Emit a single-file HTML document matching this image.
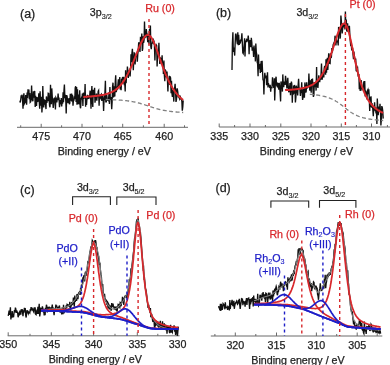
<!DOCTYPE html>
<html><head><meta charset="utf-8">
<style>
html,body{margin:0;padding:0;background:#fff;width:390px;height:365px;overflow:hidden}
svg{display:block;filter:blur(0.35px)}
.t{font-family:"Liberation Sans",sans-serif;font-size:10.7px;fill:#222;stroke:#222;stroke-width:0.25px}
.l{font-family:"Liberation Sans",sans-serif;font-size:12.5px;fill:#222;stroke:#222;stroke-width:0.25px}
.s{font-size:7.2px;stroke-width:0.15px}
</style></head><body>
<svg width="390" height="365" viewBox="0 0 390 365">
<line x1="17" y1="127.3" x2="188" y2="127.3" stroke="#6a6a6a" stroke-width="1"/>
<line x1="41.2" y1="123.8" x2="41.2" y2="127.3" stroke="#6a6a6a" stroke-width="1"/>
<line x1="82" y1="123.8" x2="82" y2="127.3" stroke="#6a6a6a" stroke-width="1"/>
<line x1="122.7" y1="123.8" x2="122.7" y2="127.3" stroke="#6a6a6a" stroke-width="1"/>
<line x1="164.2" y1="123.8" x2="164.2" y2="127.3" stroke="#6a6a6a" stroke-width="1"/>
<line x1="20.7" y1="125.3" x2="20.7" y2="127.3" stroke="#6a6a6a" stroke-width="1"/>
<line x1="61.6" y1="125.3" x2="61.6" y2="127.3" stroke="#6a6a6a" stroke-width="1"/>
<line x1="102.4" y1="125.3" x2="102.4" y2="127.3" stroke="#6a6a6a" stroke-width="1"/>
<line x1="143.4" y1="125.3" x2="143.4" y2="127.3" stroke="#6a6a6a" stroke-width="1"/>
<line x1="184.5" y1="125.3" x2="184.5" y2="127.3" stroke="#6a6a6a" stroke-width="1"/>
<text x="41.2" y="140" text-anchor="middle" class="t">475</text>
<text x="82" y="140" text-anchor="middle" class="t">470</text>
<text x="122.7" y="140" text-anchor="middle" class="t">465</text>
<text x="164.2" y="140" text-anchor="middle" class="t">460</text>
<polyline points="19.9,100.7 20.3,102.5 20.8,99.0 21.2,95.3 21.7,98.0 22.1,94.7 22.6,101.0 23.0,108.7 23.5,97.7 23.9,93.2 24.4,103.6 24.8,102.8 25.3,101.9 25.7,95.1 26.2,100.5 26.6,104.8 27.1,92.6 27.5,97.9 28.0,89.2 28.4,92.9 28.9,89.6 29.3,99.2 29.8,93.0 30.2,102.2 30.7,101.6 31.1,99.5 31.6,85.5 32.0,97.4 32.5,100.3 32.9,101.3 33.4,91.4 33.8,97.7 34.3,94.7 34.7,90.9 35.2,106.9 35.6,95.7 36.1,100.4 36.5,105.9 37.0,97.1 37.4,99.9 37.9,101.2 38.3,100.9 38.8,93.2 39.2,101.0 39.7,108.7 40.1,91.2 40.6,105.7 41.0,101.2 41.5,96.7 41.9,112.5 42.4,105.1 42.8,86.1 43.3,100.9 43.7,107.4 44.2,99.3 44.6,104.6 45.1,100.1 45.5,104.5 46.0,109.1 46.4,96.4 46.9,102.9 47.3,97.6 47.8,101.2 48.2,93.3 48.7,93.5 49.1,99.2 49.6,105.8 50.0,107.3 50.5,84.8 50.9,95.6 51.4,104.2 51.8,88.4 52.3,97.6 52.7,99.8 53.2,107.9 53.6,104.5 54.1,98.4 54.5,98.1 55.0,98.8 55.4,109.4 55.9,97.7 56.3,98.5 56.8,102.4 57.2,99.5 57.7,99.1 58.1,93.6 58.6,100.2 59.0,97.6 59.5,107.2 59.9,104.1 60.4,100.1 60.8,104.2 61.3,98.1 61.7,106.5 62.2,100.1 62.6,103.6 63.1,92.4 63.5,102.2 64.0,90.0 64.4,84.5 64.9,98.3 65.3,94.7 65.8,101.1 66.2,113.5 66.7,95.1 67.1,96.3 67.6,101.2 68.0,103.0 68.5,98.9 68.9,98.7 69.4,104.2 69.8,103.1 70.3,93.7 70.7,99.4 71.2,100.1 71.6,93.6 72.1,101.4 72.5,94.7 73.0,105.7 73.4,101.0 73.9,100.3 74.3,96.2 74.8,99.1 75.2,87.8 75.7,86.2 76.1,101.9 76.6,86.9 77.0,104.8 77.5,89.2 77.9,104.2 78.4,94.5 78.8,104.3 79.3,100.4 79.7,90.3 80.2,107.0 80.6,108.2 81.1,99.1 81.5,97.8 82.0,98.5 82.4,93.6 82.9,106.0 83.3,92.8 83.8,99.0 84.2,94.5 84.7,95.5 85.1,83.9 85.6,106.8 86.0,98.3 86.5,104.9 86.9,99.2 87.4,94.9 87.8,97.1 88.3,95.7 88.7,99.0 89.2,96.7 89.6,97.1 90.1,90.6 90.5,94.0 91.0,108.7 91.4,94.7 91.9,86.0 92.3,100.7 92.8,107.0 93.2,89.8 93.7,97.2 94.1,94.7 94.6,87.8 95.0,102.7 95.5,98.1 95.9,98.6 96.4,93.6 96.8,100.8 97.3,94.8 97.7,97.1 98.2,91.2 98.6,90.5 99.1,105.7 99.5,94.6 100.0,99.3 100.4,97.3 100.9,94.8 101.3,94.3 101.8,101.0 102.2,95.3 102.7,96.1 103.1,97.0 103.6,110.9 104.0,100.7 104.5,98.8 104.9,93.0 105.4,80.7 105.8,101.8 106.3,101.8 106.7,95.0 107.2,98.9 107.6,100.2 108.1,100.3 108.5,100.7 109.0,92.2 109.4,103.9 109.9,87.1 110.3,99.5 110.8,97.1 111.2,99.1 111.7,109.2 112.1,102.3 112.6,86.2 113.0,82.7 113.5,97.5 113.9,86.2 114.4,91.9 114.8,96.6 115.3,81.4 115.7,75.3 116.2,92.1 116.6,90.4 117.1,88.3 117.5,89.6 118.0,83.7 118.4,79.4 118.9,87.0 119.3,81.6 119.8,77.1 120.2,89.5 120.7,85.5 121.1,90.2 121.6,78.8 122.0,80.2 122.5,77.5 122.9,77.6 123.4,83.4 123.8,76.8 124.3,85.1 124.7,82.1 125.2,91.5 125.6,70.2 126.1,83.1 126.5,76.4 127.0,76.0 127.4,66.5 127.9,71.5 128.3,77.9 128.8,72.0 129.2,72.5 129.7,68.8 130.1,76.5 130.6,68.4 131.0,54.3 131.5,62.3 131.9,53.6 132.4,48.7 132.8,60.1 133.3,70.1 133.7,61.3 134.2,52.9 134.6,53.1 135.1,64.4 135.5,57.4 136.0,55.9 136.4,53.9 136.9,53.3 137.3,61.6 137.8,54.1 138.2,50.9 138.7,42.3 139.1,50.5 139.6,42.3 140.0,51.9 140.5,36.7 140.9,42.5 141.4,42.3 141.8,33.5 142.3,50.9 142.7,48.6 143.2,36.2 143.6,42.9 144.1,39.9 144.5,21.5 145.0,38.1 145.4,35.7 145.9,36.2 146.3,29.0 146.8,33.6 147.2,34.0 147.7,42.1 148.1,37.0 148.6,35.1 149.0,44.5 149.5,28.9 149.9,33.6 150.4,25.5 150.8,46.4 151.3,49.1 151.7,43.8 152.2,43.0 152.6,40.5 153.1,42.1 153.5,40.2 154.0,41.5 154.4,44.1 154.9,60.5 155.3,49.4 155.8,46.9 156.2,44.9 156.7,45.8 157.1,66.5 157.6,55.2 158.0,53.9 158.5,52.7 158.9,42.7 159.4,56.9 159.8,63.9 160.3,57.6 160.7,58.5 161.2,61.1 161.6,64.4 162.1,55.4 162.5,64.8 163.0,62.3 163.4,73.9 163.9,60.6 164.3,74.4 164.8,81.2 165.2,69.4 165.7,70.7 166.1,76.5 166.6,76.4 167.0,71.5 167.5,81.2 167.9,91.5 168.4,78.8 168.8,80.1 169.3,75.9 169.7,85.0 170.2,76.4 170.6,78.1 171.1,93.2 171.5,80.9 172.0,93.6 172.4,97.0 172.9,90.1 173.3,92.6 173.8,101.6 174.2,89.4 174.7,87.6 175.1,83.7 175.6,92.7 176.0,101.9 176.5,99.3 176.9,88.4 177.4,89.5 177.8,92.1 178.3,97.4 178.7,94.8 179.2,97.8 179.6,98.8 180.1,95.6 180.5,97.3 181.0,99.5 181.4,98.1 181.9,102.0 182.3,110.6 182.8,106.8 183.2,100.4" fill="none" stroke="#111" stroke-width="1.35" />
<polyline points="105.8,99.5 106.3,99.5 106.7,99.6 107.2,99.6 107.6,99.6 108.1,99.6 108.5,99.6 109.0,99.6 109.4,99.6 109.9,99.6 110.3,99.7 110.8,99.7 111.2,99.7 111.7,99.7 112.1,99.7 112.6,99.7 113.0,99.8 113.5,99.8 113.9,99.8 114.4,99.8 114.8,99.8 115.3,99.9 115.7,99.9 116.2,99.9 116.6,99.9 117.1,99.9 117.5,100.0 118.0,100.0 118.4,100.0 118.9,100.1 119.3,100.1 119.8,100.1 120.2,100.1 120.7,100.2 121.1,100.2 121.6,100.2 122.0,100.3 122.5,100.3 122.9,100.4 123.4,100.4 123.8,100.4 124.3,100.5 124.7,100.5 125.2,100.6 125.6,100.6 126.1,100.7 126.5,100.7 127.0,100.8 127.4,100.8 127.9,100.9 128.3,101.0 128.8,101.0 129.2,101.1 129.7,101.2 130.1,101.2 130.6,101.3 131.0,101.4 131.5,101.4 131.9,101.5 132.4,101.6 132.8,101.7 133.3,101.8 133.7,101.9 134.2,101.9 134.6,102.0 135.1,102.1 135.5,102.2 136.0,102.3 136.4,102.4 136.9,102.5 137.3,102.7 137.8,102.8 138.2,102.9 138.7,103.0 139.1,103.1 139.6,103.2 140.0,103.4 140.5,103.5 140.9,103.6 141.4,103.8 141.8,103.9 142.3,104.0 142.7,104.2 143.2,104.3 143.6,104.4 144.1,104.6 144.5,104.7 145.0,104.9 145.4,105.0 145.9,105.2 146.3,105.3 146.8,105.5 147.2,105.6 147.7,105.8 148.1,105.9 148.6,106.1 149.0,106.2 149.5,106.4 149.9,106.5 150.4,106.7 150.8,106.8 151.3,107.0 151.7,107.1 152.2,107.3 152.6,107.4 153.1,107.6 153.5,107.7 154.0,107.9 154.4,108.0 154.9,108.1 155.3,108.3 155.8,108.4 156.2,108.5 156.7,108.7 157.1,108.8 157.6,108.9 158.0,109.0 158.5,109.1 158.9,109.3 159.4,109.4 159.8,109.5 160.3,109.6 160.7,109.7 161.2,109.8 161.6,109.9 162.1,110.0 162.5,110.1 163.0,110.2 163.4,110.3 163.9,110.3 164.3,110.4 164.8,110.5 165.2,110.6 165.7,110.7 166.1,110.7 166.6,110.8 167.0,110.9 167.5,111.0 167.9,111.0 168.4,111.1 168.8,111.2 169.3,111.2 169.7,111.3 170.2,111.3 170.6,111.4 171.1,111.5 171.5,111.5 172.0,111.6 172.4,111.6 172.9,111.7 173.3,111.7 173.8,111.8 174.2,111.8 174.7,111.9 175.1,111.9 175.6,111.9 176.0,112.0 176.5,112.0 176.9,112.1 177.4,112.1 177.8,112.1 178.3,112.2 178.7,112.2 179.2,112.2 179.6,112.3 180.1,112.3 180.5,112.3 181.0,112.4 181.4,112.4 181.9,112.4 182.3,112.4 182.8,112.5 183.2,112.5" fill="none" stroke="#808080" stroke-width="1.3" stroke-dasharray="4,2.5"/>
<polyline points="83.3,96.9 83.8,96.9 84.2,96.9 84.7,96.8 85.1,96.8 85.6,96.8 86.0,96.7 86.5,96.7 86.9,96.7 87.4,96.7 87.8,96.6 88.3,96.6 88.7,96.6 89.2,96.5 89.6,96.5 90.1,96.5 90.5,96.4 91.0,96.4 91.4,96.4 91.9,96.3 92.3,96.3 92.8,96.2 93.2,96.2 93.7,96.2 94.1,96.1 94.6,96.1 95.0,96.0 95.5,96.0 95.9,95.9 96.4,95.9 96.8,95.8 97.3,95.8 97.7,95.7 98.2,95.7 98.6,95.6 99.1,95.5 99.5,95.5 100.0,95.4 100.4,95.3 100.9,95.3 101.3,95.2 101.8,95.1 102.2,95.0 102.7,94.9 103.1,94.9 103.6,94.8 104.0,94.7 104.5,94.6 104.9,94.5 105.4,94.4 105.8,94.2 106.3,94.1 106.7,94.0 107.2,93.9 107.6,93.7 108.1,93.6 108.5,93.4 109.0,93.3 109.4,93.1 109.9,92.9 110.3,92.7 110.8,92.5 111.2,92.3 111.7,92.1 112.1,91.9 112.6,91.7 113.0,91.4 113.5,91.2 113.9,90.9 114.4,90.6 114.8,90.3 115.3,90.0 115.7,89.7 116.2,89.4 116.6,89.0 117.1,88.7 117.5,88.3 118.0,87.9 118.4,87.5 118.9,87.0 119.3,86.6 119.8,86.1 120.2,85.6 120.7,85.1 121.1,84.5 121.6,84.0 122.0,83.4 122.5,82.8 122.9,82.2 123.4,81.6 123.8,80.9 124.3,80.2 124.7,79.5 125.2,78.8 125.6,78.0 126.1,77.2 126.5,76.4 127.0,75.6 127.4,74.8 127.9,73.9 128.3,73.0 128.8,72.1 129.2,71.2 129.7,70.2 130.1,69.2 130.6,68.2 131.0,67.2 131.5,66.2 131.9,65.1 132.4,64.1 132.8,63.0 133.3,61.9 133.7,60.8 134.2,59.7 134.6,58.6 135.1,57.4 135.5,56.3 136.0,55.2 136.4,54.0 136.9,52.9 137.3,51.8 137.8,50.6 138.2,49.5 138.7,48.4 139.1,47.3 139.6,46.3 140.0,45.2 140.5,44.2 140.9,43.3 141.4,42.3 141.8,41.4 142.3,40.5 142.7,39.7 143.2,39.0 143.6,38.2 144.1,37.6 144.5,37.0 145.0,36.5 145.4,36.0 145.9,35.7 146.3,35.4 146.8,35.2 147.2,35.0 147.7,35.0 148.1,35.0 148.6,35.1 149.0,35.3 149.5,35.6 149.9,35.9 150.4,36.4 150.8,36.9 151.3,37.6 151.7,38.2 152.2,39.0 152.6,39.8 153.1,40.7 153.5,41.7 154.0,42.7 154.4,43.8 154.9,44.9 155.3,46.0 155.8,47.2 156.2,48.4 156.7,49.6 157.1,50.9 157.6,52.2 158.0,53.4 158.5,54.7 158.9,56.0 159.4,57.3 159.8,58.6 160.3,59.9 160.7,61.2 161.2,62.5 161.6,63.7 162.1,65.0 162.5,66.2 163.0,67.4 163.4,68.6 163.9,69.8 164.3,71.0 164.8,72.1 165.2,73.2 165.7,74.3 166.1,75.4 166.6,76.4 167.0,77.4 167.5,78.4 167.9,79.4 168.4,80.3 168.8,81.3 169.3,82.2 169.7,83.0 170.2,83.9 170.6,84.7 171.1,85.5 171.5,86.3 172.0,87.1 172.4,87.8 172.9,88.5 173.3,89.2 173.8,89.9 174.2,90.6 174.7,91.2 175.1,91.8 175.6,92.4 176.0,93.0 176.5,93.5 176.9,94.1 177.4,94.6 177.8,95.1 178.3,95.6 178.7,96.1 179.2,96.5 179.6,97.0 180.1,97.4 180.5,97.8 181.0,98.2 181.4,98.6 181.9,99.0 182.3,99.3 182.8,99.7 183.2,100.0" fill="none" stroke="#d8282c" stroke-width="2.0" />
<line x1="149" y1="19" x2="149" y2="127" stroke="#d8282c" stroke-width="1.4" stroke-dasharray="3,3"/>
<text x="20.0" y="18.3" text-anchor="start" class="l">(a)</text>
<text x="89.8" y="15.5" class="t">3p<tspan class="s" dy="3.1">3/2</tspan></text>
<text x="145.2" y="11.8" text-anchor="start" class="t" style="fill:#d8282c;stroke:#d8282c">Ru (0)</text>
<text x="104.3" y="154.8" text-anchor="middle" class="t">Binding energy / eV</text>
<line x1="219.2" y1="127.0" x2="390" y2="127.0" stroke="#6a6a6a" stroke-width="1"/>
<line x1="219.2" y1="123.5" x2="219.2" y2="127.0" stroke="#6a6a6a" stroke-width="1"/>
<line x1="250" y1="123.5" x2="250" y2="127.0" stroke="#6a6a6a" stroke-width="1"/>
<line x1="280.8" y1="123.5" x2="280.8" y2="127.0" stroke="#6a6a6a" stroke-width="1"/>
<line x1="311" y1="123.5" x2="311" y2="127.0" stroke="#6a6a6a" stroke-width="1"/>
<line x1="341.3" y1="123.5" x2="341.3" y2="127.0" stroke="#6a6a6a" stroke-width="1"/>
<line x1="371.5" y1="123.5" x2="371.5" y2="127.0" stroke="#6a6a6a" stroke-width="1"/>
<line x1="234.6" y1="125.0" x2="234.6" y2="127.0" stroke="#6a6a6a" stroke-width="1"/>
<line x1="265.4" y1="125.0" x2="265.4" y2="127.0" stroke="#6a6a6a" stroke-width="1"/>
<line x1="326.2" y1="125.0" x2="326.2" y2="127.0" stroke="#6a6a6a" stroke-width="1"/>
<line x1="356.4" y1="125.0" x2="356.4" y2="127.0" stroke="#6a6a6a" stroke-width="1"/>
<line x1="387.4" y1="125.0" x2="387.4" y2="127.0" stroke="#6a6a6a" stroke-width="1"/>
<text x="219.2" y="140.3" text-anchor="middle" class="t">335</text>
<text x="250" y="140.3" text-anchor="middle" class="t">330</text>
<text x="280.8" y="140.3" text-anchor="middle" class="t">325</text>
<text x="311" y="140.3" text-anchor="middle" class="t">320</text>
<text x="341.3" y="140.3" text-anchor="middle" class="t">315</text>
<text x="371.5" y="140.3" text-anchor="middle" class="t">310</text>
<polyline points="232.0,70.0 232.4,43.4 232.9,32.2 233.3,51.8 233.8,47.7 234.2,50.9 234.7,55.6 235.1,44.6 235.6,34.1 236.0,34.1 236.5,37.2 236.9,41.0 237.4,44.1 237.8,32.3 238.3,45.3 238.7,34.8 239.2,44.8 239.6,42.5 240.1,41.2 240.5,42.1 241.0,39.8 241.4,39.2 241.9,33.2 242.3,42.3 242.8,52.7 243.2,53.4 243.7,49.6 244.1,46.0 244.6,38.2 245.0,56.5 245.5,41.5 245.9,41.4 246.4,40.1 246.8,42.2 247.3,39.2 247.7,41.1 248.2,35.5 248.6,39.4 249.1,54.3 249.5,40.9 250.0,40.7 250.4,45.5 250.9,47.1 251.3,37.7 251.8,42.4 252.2,50.7 252.7,48.0 253.1,48.0 253.6,56.9 254.0,45.5 254.5,51.4 254.9,48.8 255.4,61.4 255.8,43.5 256.3,52.1 256.7,54.3 257.2,62.3 257.6,63.5 258.1,76.3 258.5,54.6 259.0,69.3 259.4,65.2 259.9,64.7 260.3,73.0 260.8,66.3 261.2,61.1 261.7,72.0 262.1,60.8 262.6,73.0 263.0,79.9 263.5,80.7 263.9,94.5 264.4,79.6 264.8,72.8 265.3,77.5 265.7,77.0 266.2,75.6 266.6,85.2 267.1,79.4 267.5,72.3 268.0,87.5 268.4,83.2 268.9,86.0 269.3,84.8 269.8,88.0 270.2,84.8 270.7,91.7 271.1,87.3 271.6,87.3 272.0,87.5 272.5,77.2 272.9,84.6 273.4,84.2 273.8,88.0 274.3,78.2 274.7,100.5 275.2,86.6 275.6,79.4 276.1,76.7 276.5,84.8 277.0,85.9 277.4,82.5 277.9,87.1 278.3,83.1 278.8,89.8 279.2,82.8 279.7,86.7 280.1,92.4 280.6,101.4 281.0,81.4 281.5,84.5 281.9,82.5 282.4,91.6 282.8,74.4 283.3,84.6 283.7,87.2 284.2,82.0 284.6,82.1 285.1,84.9 285.5,75.8 286.0,79.5 286.4,83.0 286.9,88.5 287.3,85.7 287.8,77.9 288.2,85.2 288.7,92.3 289.1,91.0 289.6,87.5 290.0,83.0 290.5,95.1 290.9,84.9 291.4,81.6 291.8,83.7 292.3,102.8 292.7,89.5 293.2,94.8 293.6,85.6 294.1,93.6 294.5,85.0 295.0,87.5 295.4,102.4 295.9,97.1 296.3,85.7 296.8,88.1 297.2,90.4 297.7,95.4 298.1,85.9 298.6,78.9 299.0,87.1 299.5,88.7 299.9,89.2 300.4,95.9 300.8,90.3 301.3,93.0 301.7,82.2 302.2,93.1 302.6,99.9 303.1,96.7 303.5,89.4 304.0,88.7 304.4,97.7 304.9,82.4 305.3,86.3 305.8,92.5 306.2,91.4 306.7,82.2 307.1,88.7 307.6,85.3 308.0,87.3 308.5,85.7 308.9,73.5 309.4,86.0 309.8,90.8 310.3,80.3 310.7,84.2 311.2,92.7 311.6,79.1 312.1,85.8 312.5,78.6 313.0,90.6 313.4,96.9 313.9,95.0 314.3,82.1 314.8,87.2 315.2,84.0 315.7,82.9 316.1,90.6 316.6,67.0 317.0,87.0 317.5,80.4 317.9,88.0 318.4,80.7 318.8,75.4 319.3,80.2 319.7,82.2 320.2,77.6 320.6,79.6 321.1,73.3 321.5,63.6 322.0,79.8 322.4,78.0 322.9,74.1 323.3,72.9 323.8,77.5 324.2,68.3 324.7,66.0 325.1,68.0 325.6,74.7 326.0,59.3 326.5,72.8 326.9,61.5 327.4,57.8 327.8,69.9 328.3,61.2 328.7,53.3 329.2,57.4 329.6,63.4 330.1,63.6 330.5,53.2 331.0,56.6 331.4,57.0 331.9,48.1 332.3,52.3 332.8,48.8 333.2,44.6 333.7,43.4 334.1,45.2 334.6,43.5 335.0,35.7 335.5,38.2 335.9,45.4 336.4,39.0 336.8,41.5 337.3,41.9 337.7,40.5 338.2,45.4 338.6,26.9 339.1,34.9 339.5,27.5 340.0,38.6 340.4,36.8 340.9,15.5 341.3,20.3 341.8,28.8 342.2,33.4 342.7,28.2 343.1,23.4 343.6,26.1 344.0,27.2 344.5,22.7 344.9,29.5 345.4,11.4 345.8,28.1 346.3,19.5 346.7,31.5 347.2,25.9 347.6,23.4 348.1,31.9 348.5,26.2 349.0,27.8 349.4,25.9 349.9,36.4 350.3,41.2 350.8,46.2 351.2,41.7 351.7,50.5 352.1,47.0 352.6,48.4 353.0,54.3 353.5,59.1 353.9,51.5 354.4,56.1 354.8,58.6 355.3,62.1 355.7,58.6 356.2,71.3 356.6,65.3 357.1,72.0 357.5,66.6 358.0,75.0 358.4,76.9 358.9,74.0 359.3,89.3 359.8,81.6 360.2,91.0 360.7,87.9 361.1,80.2 361.6,83.1 362.0,89.0 362.5,88.2 362.9,89.3 363.4,88.6 363.8,81.2 364.3,91.1 364.7,81.0 365.2,96.5 365.6,91.3 366.1,92.2 366.5,95.9 367.0,99.4 367.4,90.7 367.9,89.7 368.3,94.2 368.8,89.4 369.2,96.1 369.7,111.1 370.1,96.9 370.6,107.0 371.0,96.3 371.5,107.8 371.9,103.2 372.4,105.1 372.8,109.1 373.3,116.2 373.7,107.9 374.2,107.9 374.6,102.2 375.1,111.3 375.5,107.0 376.0,113.4 376.4,108.9 376.9,124.0 377.3,98.6 377.8,108.4 378.2,115.3 378.7,108.7 379.1,106.5 379.6,109.7 380.0,103.7 380.5,112.3 380.9,125.5 381.4,118.5 381.8,106.1 382.3,107.7 382.7,110.5 383.2,118.6" fill="none" stroke="#111" stroke-width="1.35" />
<polyline points="309.8,94.3 310.3,94.3 310.7,94.4 311.2,94.4 311.6,94.4 312.1,94.5 312.5,94.5 313.0,94.6 313.4,94.6 313.9,94.7 314.3,94.7 314.8,94.8 315.2,94.8 315.7,94.9 316.1,94.9 316.6,95.0 317.0,95.0 317.5,95.1 317.9,95.2 318.4,95.2 318.8,95.3 319.3,95.4 319.7,95.5 320.2,95.5 320.6,95.6 321.1,95.7 321.5,95.8 322.0,95.9 322.4,96.0 322.9,96.1 323.3,96.2 323.8,96.3 324.2,96.4 324.7,96.5 325.1,96.6 325.6,96.7 326.0,96.9 326.5,97.0 326.9,97.1 327.4,97.3 327.8,97.4 328.3,97.6 328.7,97.7 329.2,97.9 329.6,98.1 330.1,98.3 330.5,98.4 331.0,98.6 331.4,98.8 331.9,99.0 332.3,99.2 332.8,99.5 333.2,99.7 333.7,99.9 334.1,100.2 334.6,100.4 335.0,100.7 335.5,100.9 335.9,101.2 336.4,101.5 336.8,101.7 337.3,102.0 337.7,102.3 338.2,102.6 338.6,102.9 339.1,103.2 339.5,103.6 340.0,103.9 340.4,104.2 340.9,104.5 341.3,104.9 341.8,105.2 342.2,105.6 342.7,105.9 343.1,106.3 343.6,106.6 344.0,107.0 344.5,107.4 344.9,107.7 345.4,108.1 345.8,108.4 346.3,108.8 346.7,109.2 347.2,109.5 347.6,109.9 348.1,110.2 348.5,110.5 349.0,110.9 349.4,111.2 349.9,111.5 350.3,111.9 350.8,112.2 351.2,112.5 351.7,112.8 352.1,113.0 352.6,113.3 353.0,113.6 353.5,113.8 353.9,114.1 354.4,114.3 354.8,114.6 355.3,114.8 355.7,115.0 356.2,115.2 356.6,115.4 357.1,115.6 357.5,115.8 358.0,116.0 358.4,116.2 358.9,116.4 359.3,116.5 359.8,116.7 360.2,116.9 360.7,117.0 361.1,117.1 361.6,117.3 362.0,117.4 362.5,117.5 362.9,117.7 363.4,117.8 363.8,117.9 364.3,118.0 364.7,118.1 365.2,118.2 365.6,118.3 366.1,118.4 366.5,118.5 367.0,118.6 367.4,118.7 367.9,118.8 368.3,118.8 368.8,118.9 369.2,119.0 369.7,119.1 370.1,119.1 370.6,119.2 371.0,119.3 371.5,119.3 371.9,119.4 372.4,119.5 372.8,119.5 373.3,119.6 373.7,119.6 374.2,119.7 374.6,119.7 375.1,119.8 375.5,119.8 376.0,119.9 376.4,119.9 376.9,120.0 377.3,120.0 377.8,120.1 378.2,120.1 378.7,120.1 379.1,120.2 379.6,120.2 380.0,120.3 380.5,120.3 380.9,120.3 381.4,120.4 381.8,120.4 382.3,120.4 382.7,120.5 383.2,120.5" fill="none" stroke="#808080" stroke-width="1.3" stroke-dasharray="4,2.5"/>
<polyline points="285.1,90.2 285.5,90.1 286.0,90.1 286.4,90.1 286.9,90.1 287.3,90.0 287.8,90.0 288.2,90.0 288.7,89.9 289.1,89.9 289.6,89.8 290.0,89.8 290.5,89.8 290.9,89.7 291.4,89.7 291.8,89.7 292.3,89.6 292.7,89.6 293.2,89.5 293.6,89.5 294.1,89.4 294.5,89.4 295.0,89.3 295.4,89.3 295.9,89.2 296.3,89.2 296.8,89.1 297.2,89.0 297.7,89.0 298.1,88.9 298.6,88.9 299.0,88.8 299.5,88.7 299.9,88.6 300.4,88.6 300.8,88.5 301.3,88.4 301.7,88.3 302.2,88.2 302.6,88.1 303.1,88.0 303.5,87.9 304.0,87.8 304.4,87.7 304.9,87.6 305.3,87.5 305.8,87.4 306.2,87.2 306.7,87.1 307.1,87.0 307.6,86.8 308.0,86.6 308.5,86.5 308.9,86.3 309.4,86.1 309.8,85.9 310.3,85.7 310.7,85.5 311.2,85.3 311.6,85.1 312.1,84.8 312.5,84.6 313.0,84.3 313.4,84.0 313.9,83.7 314.3,83.4 314.8,83.0 315.2,82.7 315.7,82.3 316.1,81.9 316.6,81.5 317.0,81.1 317.5,80.6 317.9,80.2 318.4,79.7 318.8,79.1 319.3,78.6 319.7,78.0 320.2,77.4 320.6,76.8 321.1,76.2 321.5,75.5 322.0,74.8 322.4,74.1 322.9,73.3 323.3,72.5 323.8,71.7 324.2,70.8 324.7,69.9 325.1,69.0 325.6,68.1 326.0,67.1 326.5,66.1 326.9,65.0 327.4,64.0 327.8,62.9 328.3,61.7 328.7,60.6 329.2,59.4 329.6,58.1 330.1,56.9 330.5,55.6 331.0,54.3 331.4,53.0 331.9,51.7 332.3,50.3 332.8,49.0 333.2,47.6 333.7,46.2 334.1,44.8 334.6,43.4 335.0,42.0 335.5,40.6 335.9,39.2 336.4,37.8 336.8,36.5 337.3,35.2 337.7,33.9 338.2,32.7 338.6,31.5 339.1,30.3 339.5,29.3 340.0,28.3 340.4,27.3 340.9,26.5 341.3,25.7 341.8,25.1 342.2,24.5 342.7,24.1 343.1,23.8 343.6,23.6 344.0,23.5 344.5,23.6 344.9,23.8 345.4,24.1 345.8,24.6 346.3,25.3 346.7,26.1 347.2,27.2 347.6,28.4 348.1,29.8 348.5,31.3 349.0,32.9 349.4,34.7 349.9,36.5 350.3,38.5 350.8,40.5 351.2,42.5 351.7,44.6 352.1,46.8 352.6,48.9 353.0,51.1 353.5,53.2 353.9,55.3 354.4,57.4 354.8,59.5 355.3,61.6 355.7,63.6 356.2,65.6 356.6,67.5 357.1,69.4 357.5,71.2 358.0,73.0 358.4,74.7 358.9,76.4 359.3,78.0 359.8,79.6 360.2,81.1 360.7,82.5 361.1,83.9 361.6,85.3 362.0,86.6 362.5,87.8 362.9,89.0 363.4,90.2 363.8,91.3 364.3,92.4 364.7,93.4 365.2,94.4 365.6,95.3 366.1,96.2 366.5,97.1 367.0,97.9 367.4,98.7 367.9,99.5 368.3,100.2 368.8,100.9 369.2,101.5 369.7,102.2 370.1,102.8 370.6,103.4 371.0,103.9 371.5,104.5 371.9,105.0 372.4,105.5 372.8,106.0 373.3,106.4 373.7,106.8 374.2,107.3 374.6,107.7 375.1,108.0 375.5,108.4 376.0,108.8 376.4,109.1 376.9,109.4 377.3,109.7 377.8,110.0 378.2,110.3 378.7,110.6 379.1,110.9 379.6,111.1 380.0,111.4 380.5,111.6 380.9,111.9 381.4,112.1 381.8,112.3 382.3,112.5 382.7,112.7 383.2,112.9" fill="none" stroke="#d8282c" stroke-width="2.0" />
<line x1="345.4" y1="14" x2="345.4" y2="127" stroke="#d8282c" stroke-width="1.4" stroke-dasharray="3,3"/>
<text x="215.9" y="17.0" text-anchor="start" class="l">(b)</text>
<text x="296.4" y="16" class="t">3d<tspan class="s" dy="3.1">3/2</tspan></text>
<text x="349.5" y="7.8" text-anchor="start" class="t" style="fill:#d8282c;stroke:#d8282c">Pt (0)</text>
<text x="306.5" y="154.8" text-anchor="middle" class="t">Binding energy / eV</text>
<line x1="7.7" y1="335.8" x2="179.6" y2="335.8" stroke="#6a6a6a" stroke-width="1"/>
<line x1="8.2" y1="332.3" x2="8.2" y2="335.8" stroke="#6a6a6a" stroke-width="1"/>
<line x1="51.3" y1="332.3" x2="51.3" y2="335.8" stroke="#6a6a6a" stroke-width="1"/>
<line x1="93.6" y1="332.3" x2="93.6" y2="335.8" stroke="#6a6a6a" stroke-width="1"/>
<line x1="137.3" y1="332.3" x2="137.3" y2="335.8" stroke="#6a6a6a" stroke-width="1"/>
<line x1="177.6" y1="332.3" x2="177.6" y2="335.8" stroke="#6a6a6a" stroke-width="1"/>
<line x1="30" y1="333.8" x2="30" y2="335.8" stroke="#6a6a6a" stroke-width="1"/>
<line x1="73" y1="333.8" x2="73" y2="335.8" stroke="#6a6a6a" stroke-width="1"/>
<line x1="115" y1="333.8" x2="115" y2="335.8" stroke="#6a6a6a" stroke-width="1"/>
<line x1="157.8" y1="333.8" x2="157.8" y2="335.8" stroke="#6a6a6a" stroke-width="1"/>
<text x="8.2" y="348.3" text-anchor="middle" class="t">350</text>
<text x="51.3" y="348.3" text-anchor="middle" class="t">345</text>
<text x="93.6" y="348.3" text-anchor="middle" class="t">340</text>
<text x="137.3" y="348.3" text-anchor="middle" class="t">335</text>
<text x="177.6" y="348.3" text-anchor="middle" class="t">330</text>
<polyline points="8.2,315.8 8.6,313.8 9.1,310.6 9.5,314.9 10.0,311.6 10.4,307.3 10.9,319.5 11.3,314.9 11.8,317.6 12.2,311.0 12.7,316.7 13.1,316.9 13.6,316.8 14.0,313.0 14.5,310.1 14.9,312.5 15.4,307.6 15.8,308.8 16.3,313.0 16.7,310.4 17.2,312.4 17.6,312.4 18.1,317.3 18.5,315.7 19.0,312.5 19.4,315.4 19.9,310.6 20.3,311.6 20.8,314.6 21.2,309.4 21.7,311.7 22.1,309.1 22.6,312.8 23.0,316.1 23.5,310.3 23.9,312.6 24.4,307.8 24.8,309.3 25.3,309.0 25.7,315.4 26.2,317.5 26.6,313.0 27.1,310.0 27.5,313.4 28.0,310.9 28.4,313.5 28.9,312.2 29.3,312.2 29.8,312.9 30.2,310.0 30.7,310.3 31.1,307.1 31.6,310.1 32.0,307.7 32.5,310.7 32.9,308.7 33.4,311.2 33.8,312.0 34.3,307.4 34.7,308.8 35.2,308.4 35.6,314.2 36.1,314.7 36.5,312.6 37.0,309.6 37.4,313.9 37.9,306.7 38.3,313.9 38.8,308.7 39.2,303.9 39.7,316.4 40.1,313.9 40.6,307.6 41.0,310.4 41.5,309.4 41.9,310.1 42.4,306.3 42.8,308.2 43.3,310.9 43.7,310.3 44.2,315.4 44.6,309.8 45.1,315.2 45.5,307.8 46.0,310.1 46.4,304.8 46.9,306.4 47.3,312.5 47.8,307.0 48.2,310.5 48.7,309.1 49.1,306.7 49.6,308.3 50.0,307.9 50.5,307.9 50.9,310.8 51.4,310.6 51.8,307.6 52.3,304.6 52.7,309.6 53.2,308.7 53.6,311.3 54.1,315.1 54.5,310.8 55.0,308.7 55.4,308.4 55.9,304.6 56.3,306.6 56.8,306.3 57.2,307.7 57.7,307.6 58.1,310.4 58.6,307.6 59.0,308.0 59.5,305.5 59.9,312.4 60.4,309.6 60.8,312.6 61.3,310.1 61.7,314.4 62.2,307.5 62.6,309.7 63.1,314.1 63.5,304.8 64.0,310.5 64.4,311.6 64.9,309.4 65.3,309.1 65.8,310.2 66.2,305.3 66.7,307.8 67.1,304.4 67.6,304.7 68.0,304.7 68.5,305.6 68.9,306.1 69.4,306.6 69.8,301.7 70.3,309.7 70.7,307.3 71.2,305.8 71.6,302.8 72.1,303.0 72.5,304.1 73.0,303.2 73.4,297.6 73.9,303.0 74.3,306.8 74.8,295.5 75.2,301.9 75.7,299.7 76.1,297.9 76.6,300.9 77.0,294.0 77.5,296.6 77.9,299.2 78.4,294.4 78.8,293.0 79.3,293.5 79.7,291.1 80.2,295.0 80.6,287.8 81.1,291.0 81.5,284.5 82.0,288.0 82.4,284.7 82.9,277.3 83.3,282.1 83.8,275.4 84.2,278.1 84.7,281.4 85.1,273.3 85.6,271.7 86.0,276.0 86.5,270.8 86.9,272.3 87.4,267.0 87.8,261.7 88.3,261.2 88.7,261.9 89.2,258.8 89.6,254.2 90.1,252.0 90.5,249.4 91.0,246.3 91.4,250.7 91.9,244.4 92.3,240.4 92.8,241.2 93.2,243.8 93.7,243.6 94.1,241.6 94.6,241.1 95.0,243.5 95.5,240.1 95.9,242.1 96.4,248.5 96.8,246.8 97.3,250.5 97.7,254.4 98.2,256.6 98.6,255.7 99.1,263.4 99.5,262.6 100.0,263.5 100.4,270.3 100.9,274.2 101.3,275.9 101.8,282.9 102.2,286.5 102.7,284.1 103.1,292.3 103.6,293.9 104.0,295.3 104.5,293.8 104.9,297.4 105.4,300.3 105.8,301.7 106.3,299.5 106.7,304.7 107.2,300.9 107.6,304.0 108.1,308.4 108.5,304.0 109.0,305.0 109.4,309.4 109.9,306.2 110.3,306.1 110.8,308.5 111.2,310.8 111.7,303.1 112.1,306.7 112.6,306.4 113.0,303.6 113.5,306.9 113.9,306.9 114.4,309.7 114.8,306.6 115.3,309.0 115.7,309.5 116.2,306.5 116.6,308.6 117.1,311.7 117.5,308.1 118.0,305.4 118.4,306.4 118.9,303.9 119.3,306.3 119.8,307.3 120.2,302.6 120.7,303.1 121.1,306.3 121.6,301.8 122.0,303.3 122.5,296.8 122.9,299.2 123.4,299.2 123.8,305.0 124.3,298.1 124.7,297.0 125.2,296.0 125.6,296.0 126.1,297.0 126.5,295.2 127.0,297.9 127.4,292.1 127.9,293.5 128.3,289.0 128.8,287.9 129.2,280.9 129.7,281.7 130.1,279.3 130.6,276.1 131.0,268.4 131.5,272.4 131.9,265.8 132.4,261.8 132.8,258.1 133.3,253.9 133.7,250.9 134.2,242.3 134.6,238.4 135.1,236.8 135.5,232.2 136.0,227.0 136.4,221.8 136.9,220.0 137.3,220.2 137.8,222.6 138.2,217.7 138.7,225.5 139.1,226.5 139.6,226.9 140.0,234.1 140.5,233.5 140.9,237.9 141.4,244.3 141.8,250.8 142.3,257.3 142.7,262.1 143.2,268.7 143.6,267.9 144.1,278.6 144.5,278.2 145.0,283.9 145.4,288.1 145.9,289.6 146.3,292.2 146.8,295.8 147.2,300.7 147.7,304.5 148.1,307.9 148.6,304.7 149.0,306.9 149.5,308.1 149.9,312.8 150.4,308.1 150.8,317.1 151.3,314.0 151.7,314.3 152.2,317.9 152.6,320.4 153.1,319.5 153.5,321.9 154.0,320.4 154.4,326.6 154.9,327.3 155.3,321.6 155.8,325.9 156.2,323.3 156.7,323.6 157.1,321.7 157.6,323.6 158.0,326.6 158.5,321.9 158.9,326.9 159.4,326.5 159.8,326.6 160.3,320.9 160.7,326.1 161.2,328.1 161.6,324.9 162.1,327.2 162.5,321.4 163.0,328.9 163.4,325.8 163.9,329.7 164.3,323.3 164.8,329.5 165.2,327.4 165.7,330.1 166.1,326.0 166.6,326.9 167.0,333.8 167.5,326.5 167.9,326.9 168.4,328.1 168.8,326.3 169.3,331.7 169.7,333.1 170.2,327.3 170.6,324.9 171.1,332.0 171.5,331.9 172.0,331.2 172.4,332.1 172.9,327.3 173.3,329.0 173.8,326.1 174.2,326.0 174.7,331.8 175.1,327.9 175.6,335.0 176.0,329.7 176.5,328.0 176.9,331.4 177.4,335.8 177.8,331.9 178.3,326.6" fill="none" stroke="#111" stroke-width="1.35" />
<polyline points="41.0,310.0 41.5,309.9 41.9,309.9 42.4,309.9 42.8,309.8 43.3,309.8 43.7,309.7 44.2,309.7 44.6,309.6 45.1,309.6 45.5,309.5 46.0,309.5 46.4,309.4 46.9,309.4 47.3,309.4 47.8,309.3 48.2,309.3 48.7,309.2 49.1,309.2 49.6,309.1 50.0,309.1 50.5,309.1 50.9,309.0 51.4,309.0 51.8,309.0 52.3,308.9 52.7,308.9 53.2,308.9 53.6,308.9 54.1,308.8 54.5,308.8 55.0,308.8 55.4,308.8 55.9,308.8 56.3,308.7 56.8,308.7 57.2,308.7 57.7,308.6 58.1,308.6 58.6,308.6 59.0,308.5 59.5,308.5 59.9,308.4 60.4,308.4 60.8,308.3 61.3,308.2 61.7,308.1 62.2,308.1 62.6,308.0 63.1,307.9 63.5,307.8 64.0,307.7 64.4,307.5 64.9,307.4 65.3,307.3 65.8,307.1 66.2,306.9 66.7,306.8 67.1,306.6 67.6,306.4 68.0,306.2 68.5,306.0 68.9,305.7 69.4,305.5 69.8,305.2 70.3,304.8 70.7,304.5 71.2,304.1 71.6,303.6 72.1,303.2 72.5,302.7 73.0,302.2 73.4,301.7 73.9,301.1 74.3,300.6 74.8,300.0 75.2,299.4 75.7,298.8 76.1,298.2 76.6,297.6 77.0,296.9 77.5,296.2 77.9,295.6 78.4,294.8 78.8,294.1 79.3,293.2 79.7,292.2 80.2,291.2 80.6,290.0 81.1,288.9 81.5,287.6 82.0,286.3 82.4,285.0 82.9,283.6 83.3,282.1 83.8,280.7 84.2,279.2 84.7,277.6 85.1,276.0 85.6,274.3 86.0,272.5 86.5,270.5 86.9,268.5 87.4,266.2 87.8,263.8 88.3,261.4 88.7,258.9 89.2,256.5 89.6,254.1 90.1,251.9 90.5,249.7 91.0,247.7 91.4,245.9 91.9,244.4 92.3,243.2 92.8,242.4 93.2,242.0 93.7,242.0 94.1,242.3 94.6,242.8 95.0,243.4 95.5,244.3 95.9,245.3 96.4,246.6 96.8,248.0 97.3,249.6 97.7,251.4 98.2,253.4 98.6,255.6 99.1,258.1 99.5,261.0 100.0,264.3 100.4,268.5 100.9,273.2 101.3,278.0 101.8,282.7 102.2,286.9 102.7,290.3 103.1,292.7 103.6,294.6 104.0,296.3 104.5,297.9 104.9,299.2 105.4,300.4 105.8,301.4 106.3,302.3 106.7,303.1 107.2,303.9 107.6,304.5 108.1,305.1 108.5,305.7 109.0,306.2 109.4,306.7 109.9,307.2 110.3,307.6 110.8,307.9 111.2,308.2 111.7,308.5 112.1,308.7 112.6,308.9 113.0,309.0 113.5,309.0 113.9,309.0 114.4,308.9 114.8,308.8 115.3,308.7 115.7,308.5 116.2,308.3 116.6,308.0 117.1,307.7 117.5,307.3 118.0,307.0 118.4,306.5 118.9,306.1 119.3,305.6 119.8,305.1 120.2,304.6 120.7,304.1 121.1,303.6 121.6,303.0 122.0,302.4 122.5,301.8 122.9,301.2 123.4,300.5 123.8,299.8 124.3,299.0 124.7,298.2 125.2,297.4 125.6,296.4 126.1,295.4 126.5,294.2 127.0,293.0 127.4,291.6 127.9,290.1 128.3,288.4 128.8,286.5 129.2,284.4 129.7,282.0 130.1,279.5 130.6,276.7 131.0,273.6 131.5,270.3 131.9,266.7 132.4,262.8 132.8,258.7 133.3,254.4 133.7,249.9 134.2,245.3 134.6,240.7 135.1,236.1 135.5,231.8 136.0,227.9 136.4,224.6 136.9,222.0 137.3,220.4 137.8,219.8 138.2,220.3 138.7,221.9 139.1,224.5 139.6,228.0 140.0,232.2 140.5,237.0 140.9,242.1 141.4,247.4 141.8,252.8 142.3,258.1 142.7,263.3 143.2,268.3 143.6,273.0 144.1,277.5 144.5,281.6 145.0,285.5 145.4,289.1 145.9,292.4 146.3,295.4 146.8,298.2 147.2,300.8 147.7,303.1 148.1,305.1 148.6,307.0 149.0,308.8 149.5,310.3 149.9,311.7 150.4,313.0 150.8,314.1 151.3,315.2 151.7,316.2 152.2,317.1 152.6,317.9 153.1,318.7 153.5,319.4 154.0,320.1 154.4,320.7 154.9,321.3 155.3,321.9 155.8,322.4 156.2,322.9 156.7,323.4 157.1,323.9 157.6,324.3 158.0,324.7 158.5,325.0 158.9,325.4 159.4,325.7 159.8,325.9 160.3,326.2 160.7,326.4 161.2,326.6 161.6,326.8 162.1,326.9 162.5,327.1 163.0,327.3 163.4,327.4 163.9,327.6 164.3,327.7 164.8,327.9 165.2,328.0 165.7,328.1 166.1,328.2 166.6,328.3 167.0,328.4 167.5,328.5 167.9,328.6 168.4,328.7 168.8,328.8 169.3,328.9 169.7,329.0 170.2,329.0 170.6,329.1 171.1,329.1 171.5,329.2 172.0,329.2 172.4,329.3 172.9,329.3 173.3,329.4 173.8,329.4 174.2,329.4 174.7,329.5 175.1,329.5 175.6,329.5 176.0,329.5 176.5,329.5 176.9,329.5 177.4,329.5 177.8,329.5 178.3,329.5" fill="none" stroke="#808080" stroke-width="1.1" />
<polyline points="41.0,310.0 41.5,310.0 41.9,310.0 42.4,310.0 42.8,310.0 43.3,310.0 43.7,310.0 44.2,310.0 44.6,310.0 45.1,310.0 45.5,310.0 46.0,310.0 46.4,310.0 46.9,310.0 47.3,310.0 47.8,310.0 48.2,310.0 48.7,310.0 49.1,310.0 49.6,310.0 50.0,310.0 50.5,310.0 50.9,310.0 51.4,310.0 51.8,310.0 52.3,310.0 52.7,310.0 53.2,310.0 53.6,310.0 54.1,310.0 54.5,309.9 55.0,309.9 55.4,309.9 55.9,309.9 56.3,309.9 56.8,309.9 57.2,309.9 57.7,309.9 58.1,309.9 58.6,309.9 59.0,309.9 59.5,309.8 59.9,309.8 60.4,309.8 60.8,309.8 61.3,309.8 61.7,309.8 62.2,309.7 62.6,309.7 63.1,309.7 63.5,309.6 64.0,309.6 64.4,309.6 64.9,309.6 65.3,309.5 65.8,309.5 66.2,309.4 66.7,309.4 67.1,309.3 67.6,309.3 68.0,309.2 68.5,309.2 68.9,309.1 69.4,309.0 69.8,309.0 70.3,308.9 70.7,308.8 71.2,308.7 71.6,308.6 72.1,308.5 72.5,308.4 73.0,308.3 73.4,308.1 73.9,308.0 74.3,307.9 74.8,307.7 75.2,307.5 75.7,307.3 76.1,307.1 76.6,306.9 77.0,306.6 77.5,306.3 77.9,306.0 78.4,305.6 78.8,305.2 79.3,304.8 79.7,304.3 80.2,303.7 80.6,303.1 81.1,302.3 81.5,301.5 82.0,300.6 82.4,299.5 82.9,298.4 83.3,297.1 83.8,295.7 84.2,294.1 84.7,292.3 85.1,290.4 85.6,288.3 86.0,286.1 86.5,283.6 86.9,281.0 87.4,278.3 87.8,275.3 88.3,272.3 88.7,269.1 89.2,265.9 89.6,262.6 90.1,259.3 90.5,256.2 91.0,253.2 91.4,250.4 91.9,248.0 92.3,246.1 92.8,244.6 93.2,243.8 93.7,243.6 94.1,244.1 94.6,245.2 95.0,246.8 95.5,249.1 95.9,251.7 96.4,254.7 96.8,257.9 97.3,261.3 97.7,264.8 98.2,268.3 98.6,271.8 99.1,275.1 99.5,278.4 100.0,281.5 100.4,284.5 100.9,287.2 101.3,289.9 101.8,292.3 102.2,294.5 102.7,296.6 103.1,298.4 103.6,300.2 104.0,301.7 104.5,303.1 104.9,304.4 105.4,305.5 105.8,306.5 106.3,307.5 106.7,308.3 107.2,309.0 107.6,309.7 108.1,310.3 108.5,310.8 109.0,311.3 109.4,311.7 109.9,312.1 110.3,312.5 110.8,312.8 111.2,313.1 111.7,313.4 112.1,313.7 112.6,313.9 113.0,314.2 113.5,314.4 113.9,314.6 114.4,314.8 114.8,315.0 115.3,315.2 115.7,315.4 116.2,315.6 116.6,315.7 117.1,315.9 117.5,316.1 118.0,316.2 118.4,316.4 118.9,316.6 119.3,316.7 119.8,316.9 120.2,317.0 120.7,317.2 121.1,317.3 121.6,317.5 122.0,317.7 122.5,317.8 122.9,318.0 123.4,318.2 123.8,318.4 124.3,318.5 124.7,318.7 125.2,318.9 125.6,319.1 126.1,319.2 126.5,319.4 127.0,319.6 127.4,319.8 127.9,320.0 128.3,320.2 128.8,320.3 129.2,320.5 129.7,320.7 130.1,320.9 130.6,321.1 131.0,321.2 131.5,321.4 131.9,321.6 132.4,321.8 132.8,322.0 133.3,322.1 133.7,322.3 134.2,322.5 134.6,322.6 135.1,322.8 135.5,322.9 136.0,323.1 136.4,323.2 136.9,323.4 137.3,323.5 137.8,323.7 138.2,323.9 138.7,324.0 139.1,324.2 139.6,324.3 140.0,324.5 140.5,324.7 140.9,324.8 141.4,325.0 141.8,325.2 142.3,325.4 142.7,325.5 143.2,325.7 143.6,325.9 144.1,326.0 144.5,326.2 145.0,326.3 145.4,326.5 145.9,326.6 146.3,326.8 146.8,326.9 147.2,327.1 147.7,327.2 148.1,327.3 148.6,327.5 149.0,327.6 149.5,327.7 149.9,327.8 150.4,327.9 150.8,328.0 151.3,328.0 151.7,328.1 152.2,328.1 152.6,328.2 153.1,328.2 153.5,328.3 154.0,328.3 154.4,328.3 154.9,328.3 155.3,328.3 155.8,328.4 156.2,328.4 156.7,328.4 157.1,328.4 157.6,328.5 158.0,328.5 158.5,328.5 158.9,328.5 159.4,328.5 159.8,328.5 160.3,328.6 160.7,328.6 161.2,328.6 161.6,328.6 162.1,328.6 162.5,328.6 163.0,328.7 163.4,328.7 163.9,328.7 164.3,328.7 164.8,328.7 165.2,328.7 165.7,328.7 166.1,328.8 166.6,328.8 167.0,328.8 167.5,328.8 167.9,328.8 168.4,328.8 168.8,328.8 169.3,328.8 169.7,328.9 170.2,328.9 170.6,328.9 171.1,328.9 171.5,328.9 172.0,328.9 172.4,328.9 172.9,328.9 173.3,328.9 173.8,328.9 174.2,328.9 174.7,328.9 175.1,328.9 175.6,328.9 176.0,329.0 176.5,329.0 176.9,329.0 177.4,329.0 177.8,329.0 178.3,329.0" fill="none" stroke="#d8282c" stroke-width="1.7" />
<polyline points="41.0,310.3 41.5,310.3 41.9,310.3 42.4,310.3 42.8,310.3 43.3,310.3 43.7,310.3 44.2,310.3 44.6,310.3 45.1,310.4 45.5,310.4 46.0,310.4 46.4,310.4 46.9,310.4 47.3,310.4 47.8,310.4 48.2,310.4 48.7,310.4 49.1,310.4 49.6,310.5 50.0,310.5 50.5,310.5 50.9,310.5 51.4,310.5 51.8,310.5 52.3,310.5 52.7,310.5 53.2,310.6 53.6,310.6 54.1,310.6 54.5,310.6 55.0,310.6 55.4,310.6 55.9,310.6 56.3,310.6 56.8,310.7 57.2,310.7 57.7,310.7 58.1,310.7 58.6,310.7 59.0,310.7 59.5,310.8 59.9,310.8 60.4,310.8 60.8,310.8 61.3,310.8 61.7,310.8 62.2,310.8 62.6,310.9 63.1,310.9 63.5,310.9 64.0,310.9 64.4,310.9 64.9,310.9 65.3,310.9 65.8,310.9 66.2,311.0 66.7,311.0 67.1,311.0 67.6,311.0 68.0,311.0 68.5,311.0 68.9,311.0 69.4,311.0 69.8,311.1 70.3,311.1 70.7,311.1 71.2,311.1 71.6,311.1 72.1,311.1 72.5,311.1 73.0,311.1 73.4,311.2 73.9,311.2 74.3,311.2 74.8,311.2 75.2,311.2 75.7,311.2 76.1,311.2 76.6,311.3 77.0,311.3 77.5,311.3 77.9,311.3 78.4,311.3 78.8,311.3 79.3,311.4 79.7,311.4 80.2,311.4 80.6,311.4 81.1,311.5 81.5,311.5 82.0,311.5 82.4,311.5 82.9,311.6 83.3,311.6 83.8,311.7 84.2,311.7 84.7,311.8 85.1,311.9 85.6,311.9 86.0,312.0 86.5,312.1 86.9,312.2 87.4,312.3 87.8,312.4 88.3,312.4 88.7,312.5 89.2,312.6 89.6,312.7 90.1,312.8 90.5,313.0 91.0,313.1 91.4,313.2 91.9,313.3 92.3,313.4 92.8,313.5 93.2,313.6 93.7,313.7 94.1,313.8 94.6,313.9 95.0,314.0 95.5,314.1 95.9,314.1 96.4,314.2 96.8,314.3 97.3,314.4 97.7,314.4 98.2,314.5 98.6,314.6 99.1,314.6 99.5,314.6 100.0,314.7 100.4,314.7 100.9,314.7 101.3,314.8 101.8,314.8 102.2,314.8 102.7,314.8 103.1,314.8 103.6,314.8 104.0,314.8 104.5,314.8 104.9,314.8 105.4,314.8 105.8,314.7 106.3,314.7 106.7,314.7 107.2,314.7 107.6,314.6 108.1,314.6 108.5,314.6 109.0,314.5 109.4,314.5 109.9,314.4 110.3,314.3 110.8,314.3 111.2,314.2 111.7,314.1 112.1,314.1 112.6,314.0 113.0,313.9 113.5,313.8 113.9,313.7 114.4,313.6 114.8,313.4 115.3,313.3 115.7,313.2 116.2,313.0 116.6,312.9 117.1,312.7 117.5,312.5 118.0,312.3 118.4,312.1 118.9,311.9 119.3,311.6 119.8,311.4 120.2,311.1 120.7,310.8 121.1,310.4 121.6,310.1 122.0,309.7 122.5,309.2 122.9,308.8 123.4,308.2 123.8,307.6 124.3,307.0 124.7,306.2 125.2,305.4 125.6,304.5 126.1,303.4 126.5,302.3 127.0,301.0 127.4,299.5 127.9,297.9 128.3,296.1 128.8,294.1 129.2,291.8 129.7,289.4 130.1,286.7 130.6,283.7 131.0,280.4 131.5,276.9 131.9,273.1 132.4,269.0 132.8,264.7 133.3,260.1 133.7,255.3 134.2,250.5 134.6,245.6 135.1,240.7 135.5,236.2 136.0,232.0 136.4,228.3 136.9,225.5 137.3,223.5 137.8,222.6 138.2,222.8 138.7,224.1 139.1,226.5 139.6,229.7 140.0,233.7 140.5,238.2 140.9,243.1 141.4,248.3 141.8,253.5 142.3,258.6 142.7,263.7 143.2,268.5 143.6,273.1 144.1,277.5 144.5,281.6 145.0,285.4 145.4,288.9 145.9,292.1 146.3,295.1 146.8,297.8 147.2,300.3 147.7,302.6 148.1,304.7 148.6,306.5 149.0,308.2 149.5,309.7 149.9,311.1 150.4,312.4 150.8,313.5 151.3,314.5 151.7,315.4 152.2,316.2 152.6,317.0 153.1,317.7 153.5,318.3 154.0,318.8 154.4,319.3 154.9,319.8 155.3,320.3 155.8,320.7 156.2,321.1 156.7,321.4 157.1,321.8 157.6,322.1 158.0,322.4 158.5,322.6 158.9,322.9 159.4,323.1 159.8,323.4 160.3,323.6 160.7,323.8 161.2,324.0 161.6,324.2 162.1,324.4 162.5,324.5 163.0,324.7 163.4,324.9 163.9,325.0 164.3,325.1 164.8,325.3 165.2,325.4 165.7,325.5 166.1,325.6 166.6,325.8 167.0,325.9 167.5,326.0 167.9,326.1 168.4,326.2 168.8,326.2 169.3,326.3 169.7,326.4 170.2,326.5 170.6,326.6 171.1,326.6 171.5,326.7 172.0,326.8 172.4,326.8 172.9,326.9 173.3,327.0 173.8,327.0 174.2,327.1 174.7,327.1 175.1,327.2 175.6,327.2 176.0,327.3 176.5,327.3 176.9,327.4 177.4,327.4 177.8,327.4 178.3,327.5" fill="none" stroke="#d8282c" stroke-width="1.7" />
<polyline points="41.0,310.6 41.5,310.6 41.9,310.6 42.4,310.6 42.8,310.6 43.3,310.6 43.7,310.7 44.2,310.7 44.6,310.7 45.1,310.7 45.5,310.7 46.0,310.7 46.4,310.7 46.9,310.7 47.3,310.7 47.8,310.8 48.2,310.8 48.7,310.8 49.1,310.8 49.6,310.8 50.0,310.8 50.5,310.8 50.9,310.9 51.4,310.9 51.8,310.9 52.3,310.9 52.7,310.9 53.2,310.9 53.6,311.0 54.1,311.0 54.5,311.0 55.0,311.0 55.4,311.0 55.9,311.1 56.3,311.1 56.8,311.1 57.2,311.1 57.7,311.1 58.1,311.1 58.6,311.2 59.0,311.2 59.5,311.2 59.9,311.2 60.4,311.2 60.8,311.3 61.3,311.3 61.7,311.3 62.2,311.3 62.6,311.3 63.1,311.4 63.5,311.4 64.0,311.4 64.4,311.4 64.9,311.5 65.3,311.5 65.8,311.5 66.2,311.5 66.7,311.5 67.1,311.6 67.6,311.6 68.0,311.6 68.5,311.6 68.9,311.6 69.4,311.6 69.8,311.7 70.3,311.7 70.7,311.7 71.2,311.7 71.6,311.7 72.1,311.8 72.5,311.8 73.0,311.8 73.4,311.8 73.9,311.9 74.3,311.9 74.8,311.9 75.2,311.9 75.7,312.0 76.1,312.0 76.6,312.0 77.0,312.0 77.5,312.1 77.9,312.1 78.4,312.1 78.8,312.1 79.3,312.2 79.7,312.2 80.2,312.2 80.6,312.3 81.1,312.3 81.5,312.4 82.0,312.4 82.4,312.4 82.9,312.5 83.3,312.6 83.8,312.6 84.2,312.7 84.7,312.8 85.1,312.9 85.6,312.9 86.0,313.0 86.5,313.1 86.9,313.2 87.4,313.4 87.8,313.5 88.3,313.6 88.7,313.7 89.2,313.8 89.6,313.9 90.1,314.1 90.5,314.2 91.0,314.3 91.4,314.5 91.9,314.6 92.3,314.7 92.8,314.8 93.2,315.0 93.7,315.1 94.1,315.2 94.6,315.4 95.0,315.5 95.5,315.6 95.9,315.7 96.4,315.8 96.8,315.9 97.3,316.0 97.7,316.2 98.2,316.3 98.6,316.3 99.1,316.4 99.5,316.5 100.0,316.6 100.4,316.7 100.9,316.7 101.3,316.8 101.8,316.9 102.2,316.9 102.7,317.0 103.1,317.1 103.6,317.1 104.0,317.2 104.5,317.2 104.9,317.3 105.4,317.4 105.8,317.4 106.3,317.5 106.7,317.5 107.2,317.6 107.6,317.6 108.1,317.7 108.5,317.7 109.0,317.8 109.4,317.8 109.9,317.9 110.3,317.9 110.8,317.9 111.2,318.0 111.7,318.0 112.1,318.1 112.6,318.1 113.0,318.2 113.5,318.3 113.9,318.3 114.4,318.4 114.8,318.4 115.3,318.5 115.7,318.5 116.2,318.6 116.6,318.7 117.1,318.7 117.5,318.8 118.0,318.9 118.4,318.9 118.9,319.0 119.3,319.1 119.8,319.2 120.2,319.2 120.7,319.3 121.1,319.4 121.6,319.5 122.0,319.6 122.5,319.7 122.9,319.9 123.4,320.0 123.8,320.1 124.3,320.2 124.7,320.4 125.2,320.5 125.6,320.6 126.1,320.8 126.5,320.9 127.0,321.0 127.4,321.2 127.9,321.3 128.3,321.5 128.8,321.6 129.2,321.8 129.7,321.9 130.1,322.1 130.6,322.2 131.0,322.4 131.5,322.6 131.9,322.7 132.4,322.9 132.8,323.0 133.3,323.2 133.7,323.3 134.2,323.4 134.6,323.6 135.1,323.7 135.5,323.9 136.0,324.0 136.4,324.1 136.9,324.3 137.3,324.4 137.8,324.5 138.2,324.7 138.7,324.8 139.1,325.0 139.6,325.1 140.0,325.3 140.5,325.4 140.9,325.6 141.4,325.7 141.8,325.9 142.3,326.0 142.7,326.2 143.2,326.4 143.6,326.5 144.1,326.7 144.5,326.8 145.0,327.0 145.4,327.1 145.9,327.2 146.3,327.4 146.8,327.5 147.2,327.6 147.7,327.8 148.1,327.9 148.6,328.0 149.0,328.1 149.5,328.2 149.9,328.3 150.4,328.4 150.8,328.5 151.3,328.5 151.7,328.6 152.2,328.6 152.6,328.7 153.1,328.7 153.5,328.7 154.0,328.7 154.4,328.7 154.9,328.8 155.3,328.8 155.8,328.8 156.2,328.8 156.7,328.8 157.1,328.8 157.6,328.9 158.0,328.9 158.5,328.9 158.9,328.9 159.4,328.9 159.8,328.9 160.3,328.9 160.7,328.9 161.2,329.0 161.6,329.0 162.1,329.0 162.5,329.0 163.0,329.0 163.4,329.0 163.9,329.0 164.3,329.0 164.8,329.0 165.2,329.1 165.7,329.1 166.1,329.1 166.6,329.1 167.0,329.1 167.5,329.1 167.9,329.1 168.4,329.1 168.8,329.1 169.3,329.1 169.7,329.1 170.2,329.1 170.6,329.1 171.1,329.2 171.5,329.2 172.0,329.2 172.4,329.2 172.9,329.2 173.3,329.2 173.8,329.2 174.2,329.2 174.7,329.2 175.1,329.2 175.6,329.2 176.0,329.2 176.5,329.2 176.9,329.2 177.4,329.2 177.8,329.2 178.3,329.2" fill="none" stroke="#1e1ec8" stroke-width="1.7" />
<polyline points="41.0,310.6 41.5,310.6 41.9,310.6 42.4,310.6 42.8,310.6 43.3,310.6 43.7,310.7 44.2,310.7 44.6,310.7 45.1,310.7 45.5,310.7 46.0,310.7 46.4,310.7 46.9,310.7 47.3,310.7 47.8,310.8 48.2,310.8 48.7,310.8 49.1,310.8 49.6,310.8 50.0,310.8 50.5,310.8 50.9,310.9 51.4,310.9 51.8,310.9 52.3,310.9 52.7,310.9 53.2,310.9 53.6,310.9 54.1,310.9 54.5,311.0 55.0,311.0 55.4,311.0 55.9,311.0 56.3,311.0 56.8,311.0 57.2,311.0 57.7,311.0 58.1,311.0 58.6,311.0 59.0,311.0 59.5,311.0 59.9,311.0 60.4,311.0 60.8,310.9 61.3,310.9 61.7,310.9 62.2,310.8 62.6,310.8 63.1,310.8 63.5,310.7 64.0,310.7 64.4,310.6 64.9,310.5 65.3,310.4 65.8,310.4 66.2,310.3 66.7,310.2 67.1,310.0 67.6,309.9 68.0,309.8 68.5,309.7 68.9,309.5 69.4,309.4 69.8,309.3 70.3,309.1 70.7,308.9 71.2,308.8 71.6,308.6 72.1,308.4 72.5,308.3 73.0,308.1 73.4,307.9 73.9,307.8 74.3,307.6 74.8,307.5 75.2,307.3 75.7,307.2 76.1,307.0 76.6,306.9 77.0,306.8 77.5,306.7 77.9,306.6 78.4,306.5 78.8,306.5 79.3,306.4 79.7,306.4 80.2,306.4 80.6,306.4 81.1,306.4 81.5,306.5 82.0,306.5 82.4,306.6 82.9,306.7 83.3,306.8 83.8,307.0 84.2,307.2 84.7,307.4 85.1,307.6 85.6,307.8 86.0,308.0 86.5,308.3 86.9,308.6 87.4,308.8 87.8,309.1 88.3,309.4 88.7,309.7 89.2,310.0 89.6,310.3 90.1,310.7 90.5,311.0 91.0,311.3 91.4,311.6 91.9,311.9 92.3,312.2 92.8,312.5 93.2,312.8 93.7,313.1 94.1,313.4 94.6,313.7 95.0,313.9 95.5,314.2 95.9,314.4 96.4,314.6 96.8,314.9 97.3,315.1 97.7,315.3 98.2,315.5 98.6,315.6 99.1,315.8 99.5,315.9 100.0,316.1 100.4,316.2 100.9,316.3 101.3,316.5 101.8,316.6 102.2,316.7 102.7,316.8 103.1,316.9 103.6,316.9 104.0,317.0 104.5,317.1 104.9,317.2 105.4,317.3 105.8,317.3 106.3,317.4 106.7,317.4 107.2,317.5 107.6,317.6 108.1,317.6 108.5,317.7 109.0,317.7 109.4,317.8 109.9,317.8 110.3,317.9 110.8,317.9 111.2,318.0 111.7,318.0 112.1,318.1 112.6,318.1 113.0,318.2 113.5,318.2 113.9,318.3 114.4,318.4 114.8,318.4 115.3,318.5 115.7,318.5 116.2,318.6 116.6,318.7 117.1,318.7 117.5,318.8 118.0,318.9 118.4,318.9 118.9,319.0 119.3,319.1 119.8,319.2 120.2,319.2 120.7,319.3 121.1,319.4 121.6,319.5 122.0,319.6 122.5,319.7 122.9,319.9 123.4,320.0 123.8,320.1 124.3,320.2 124.7,320.4 125.2,320.5 125.6,320.6 126.1,320.8 126.5,320.9 127.0,321.0 127.4,321.2 127.9,321.3 128.3,321.5 128.8,321.6 129.2,321.8 129.7,321.9 130.1,322.1 130.6,322.2 131.0,322.4 131.5,322.6 131.9,322.7 132.4,322.9 132.8,323.0 133.3,323.2 133.7,323.3 134.2,323.4 134.6,323.6 135.1,323.7 135.5,323.9 136.0,324.0 136.4,324.1 136.9,324.3 137.3,324.4 137.8,324.5 138.2,324.7 138.7,324.8 139.1,325.0 139.6,325.1 140.0,325.3 140.5,325.4 140.9,325.6 141.4,325.7 141.8,325.9 142.3,326.0 142.7,326.2 143.2,326.4 143.6,326.5 144.1,326.7 144.5,326.8 145.0,327.0 145.4,327.1 145.9,327.2 146.3,327.4 146.8,327.5 147.2,327.6 147.7,327.8 148.1,327.9 148.6,328.0 149.0,328.1 149.5,328.2 149.9,328.3 150.4,328.4 150.8,328.5 151.3,328.5 151.7,328.6 152.2,328.6 152.6,328.7 153.1,328.7 153.5,328.7 154.0,328.7 154.4,328.7 154.9,328.8 155.3,328.8 155.8,328.8 156.2,328.8 156.7,328.8 157.1,328.8 157.6,328.9 158.0,328.9 158.5,328.9 158.9,328.9 159.4,328.9 159.8,328.9 160.3,328.9 160.7,328.9 161.2,329.0 161.6,329.0 162.1,329.0 162.5,329.0 163.0,329.0 163.4,329.0 163.9,329.0 164.3,329.0 164.8,329.0 165.2,329.1 165.7,329.1 166.1,329.1 166.6,329.1 167.0,329.1 167.5,329.1 167.9,329.1 168.4,329.1 168.8,329.1 169.3,329.1 169.7,329.1 170.2,329.1 170.6,329.1 171.1,329.2 171.5,329.2 172.0,329.2 172.4,329.2 172.9,329.2 173.3,329.2 173.8,329.2 174.2,329.2 174.7,329.2 175.1,329.2 175.6,329.2 176.0,329.2 176.5,329.2 176.9,329.2 177.4,329.2 177.8,329.2 178.3,329.2" fill="none" stroke="#1e1ec8" stroke-width="1.7" />
<polyline points="41.0,310.6 41.5,310.6 41.9,310.6 42.4,310.6 42.8,310.6 43.3,310.6 43.7,310.7 44.2,310.7 44.6,310.7 45.1,310.7 45.5,310.7 46.0,310.7 46.4,310.7 46.9,310.7 47.3,310.7 47.8,310.8 48.2,310.8 48.7,310.8 49.1,310.8 49.6,310.8 50.0,310.8 50.5,310.8 50.9,310.9 51.4,310.9 51.8,310.9 52.3,310.9 52.7,310.9 53.2,310.9 53.6,311.0 54.1,311.0 54.5,311.0 55.0,311.0 55.4,311.0 55.9,311.1 56.3,311.1 56.8,311.1 57.2,311.1 57.7,311.1 58.1,311.1 58.6,311.2 59.0,311.2 59.5,311.2 59.9,311.2 60.4,311.2 60.8,311.3 61.3,311.3 61.7,311.3 62.2,311.3 62.6,311.3 63.1,311.4 63.5,311.4 64.0,311.4 64.4,311.4 64.9,311.5 65.3,311.5 65.8,311.5 66.2,311.5 66.7,311.5 67.1,311.6 67.6,311.6 68.0,311.6 68.5,311.6 68.9,311.6 69.4,311.6 69.8,311.7 70.3,311.7 70.7,311.7 71.2,311.7 71.6,311.7 72.1,311.8 72.5,311.8 73.0,311.8 73.4,311.8 73.9,311.9 74.3,311.9 74.8,311.9 75.2,311.9 75.7,312.0 76.1,312.0 76.6,312.0 77.0,312.0 77.5,312.1 77.9,312.1 78.4,312.1 78.8,312.1 79.3,312.2 79.7,312.2 80.2,312.2 80.6,312.3 81.1,312.3 81.5,312.4 82.0,312.4 82.4,312.4 82.9,312.5 83.3,312.6 83.8,312.6 84.2,312.7 84.7,312.8 85.1,312.9 85.6,312.9 86.0,313.0 86.5,313.1 86.9,313.2 87.4,313.4 87.8,313.5 88.3,313.6 88.7,313.7 89.2,313.8 89.6,313.9 90.1,314.1 90.5,314.2 91.0,314.3 91.4,314.5 91.9,314.6 92.3,314.7 92.8,314.8 93.2,315.0 93.7,315.1 94.1,315.2 94.6,315.3 95.0,315.5 95.5,315.6 95.9,315.7 96.4,315.8 96.8,315.9 97.3,316.0 97.7,316.1 98.2,316.2 98.6,316.3 99.1,316.4 99.5,316.5 100.0,316.6 100.4,316.6 100.9,316.7 101.3,316.8 101.8,316.8 102.2,316.9 102.7,316.9 103.1,317.0 103.6,317.0 104.0,317.0 104.5,317.1 104.9,317.1 105.4,317.1 105.8,317.1 106.3,317.1 106.7,317.1 107.2,317.1 107.6,317.1 108.1,317.0 108.5,317.0 109.0,316.9 109.4,316.9 109.9,316.8 110.3,316.7 110.8,316.6 111.2,316.5 111.7,316.3 112.1,316.2 112.6,316.0 113.0,315.8 113.5,315.6 113.9,315.4 114.4,315.1 114.8,314.9 115.3,314.6 115.7,314.3 116.2,314.0 116.6,313.7 117.1,313.4 117.5,313.0 118.0,312.7 118.4,312.3 118.9,312.0 119.3,311.7 119.8,311.3 120.2,311.0 120.7,310.7 121.1,310.4 121.6,310.1 122.0,309.8 122.5,309.6 122.9,309.4 123.4,309.2 123.8,309.1 124.3,309.0 124.7,308.9 125.2,308.9 125.6,308.9 126.1,309.0 126.5,309.1 127.0,309.3 127.4,309.4 127.9,309.7 128.3,310.0 128.8,310.3 129.2,310.6 129.7,311.0 130.1,311.4 130.6,311.9 131.0,312.4 131.5,312.9 131.9,313.4 132.4,313.9 132.8,314.5 133.3,315.0 133.7,315.6 134.2,316.1 134.6,316.7 135.1,317.3 135.5,317.8 136.0,318.4 136.4,318.9 136.9,319.4 137.3,319.9 137.8,320.4 138.2,320.9 138.7,321.4 139.1,321.8 139.6,322.3 140.0,322.7 140.5,323.1 140.9,323.5 141.4,323.9 141.8,324.2 142.3,324.6 142.7,324.9 143.2,325.2 143.6,325.5 144.1,325.8 144.5,326.0 145.0,326.3 145.4,326.5 145.9,326.7 146.3,327.0 146.8,327.1 147.2,327.3 147.7,327.5 148.1,327.7 148.6,327.8 149.0,327.9 149.5,328.1 149.9,328.2 150.4,328.3 150.8,328.4 151.3,328.5 151.7,328.5 152.2,328.6 152.6,328.6 153.1,328.7 153.5,328.7 154.0,328.7 154.4,328.7 154.9,328.7 155.3,328.8 155.8,328.8 156.2,328.8 156.7,328.8 157.1,328.8 157.6,328.8 158.0,328.9 158.5,328.9 158.9,328.9 159.4,328.9 159.8,328.9 160.3,328.9 160.7,328.9 161.2,329.0 161.6,329.0 162.1,329.0 162.5,329.0 163.0,329.0 163.4,329.0 163.9,329.0 164.3,329.0 164.8,329.0 165.2,329.1 165.7,329.1 166.1,329.1 166.6,329.1 167.0,329.1 167.5,329.1 167.9,329.1 168.4,329.1 168.8,329.1 169.3,329.1 169.7,329.1 170.2,329.1 170.6,329.1 171.1,329.2 171.5,329.2 172.0,329.2 172.4,329.2 172.9,329.2 173.3,329.2 173.8,329.2 174.2,329.2 174.7,329.2 175.1,329.2 175.6,329.2 176.0,329.2 176.5,329.2 176.9,329.2 177.4,329.2 177.8,329.2 178.3,329.2" fill="none" stroke="#1e1ec8" stroke-width="1.7" />
<line x1="81.5" y1="267.5" x2="81.5" y2="335.8" stroke="#1e1ec8" stroke-width="1.4" stroke-dasharray="3,3"/>
<line x1="127" y1="255.6" x2="127" y2="335.8" stroke="#1e1ec8" stroke-width="1.4" stroke-dasharray="3,3"/>
<line x1="93.6" y1="229" x2="93.6" y2="335.8" stroke="#d8282c" stroke-width="1.4" stroke-dasharray="3,3"/>
<line x1="138.1" y1="210" x2="138.1" y2="335.8" stroke="#d8282c" stroke-width="1.4" stroke-dasharray="3,3"/>
<text x="20" y="194" text-anchor="start" class="l">(c)</text>
<text x="76.9" y="190.8" class="t">3d<tspan class="s" dy="3.1">3/2</tspan></text>
<text x="122.7" y="191" class="t">3d<tspan class="s" dy="3.1">5/2</tspan></text>
<path d="M72.6,205 V196.7 H110.4 V205 M116.8,205 V197 H156 V205" fill="none" stroke="#222" stroke-width="1.1"/>
<text x="68.7" y="222.3" text-anchor="start" class="t" style="fill:#d8282c;stroke:#d8282c">Pd (0)</text>
<text x="146.3" y="219.4" text-anchor="start" class="t" style="fill:#d8282c;stroke:#d8282c">Pd (0)</text>
<text x="56.4" y="251.8" text-anchor="start" class="t" style="fill:#1e1ec8;stroke:#1e1ec8">PdO</text>
<text x="58.5" y="264.5" text-anchor="start" class="t" style="fill:#1e1ec8;stroke:#1e1ec8">(+II)</text>
<text x="108.4" y="234.4" text-anchor="start" class="t" style="fill:#1e1ec8;stroke:#1e1ec8">PdO</text>
<text x="110" y="247.5" text-anchor="start" class="t" style="fill:#1e1ec8;stroke:#1e1ec8">(+II)</text>
<text x="95.3" y="363" text-anchor="middle" class="t">Binding energy / eV</text>
<line x1="210.8" y1="336.0" x2="382.3" y2="336.0" stroke="#6a6a6a" stroke-width="1"/>
<line x1="235.3" y1="332.5" x2="235.3" y2="336.0" stroke="#6a6a6a" stroke-width="1"/>
<line x1="276.5" y1="332.5" x2="276.5" y2="336.0" stroke="#6a6a6a" stroke-width="1"/>
<line x1="316.4" y1="332.5" x2="316.4" y2="336.0" stroke="#6a6a6a" stroke-width="1"/>
<line x1="357.2" y1="332.5" x2="357.2" y2="336.0" stroke="#6a6a6a" stroke-width="1"/>
<line x1="214.9" y1="334.0" x2="214.9" y2="336.0" stroke="#6a6a6a" stroke-width="1"/>
<line x1="255.8" y1="334.0" x2="255.8" y2="336.0" stroke="#6a6a6a" stroke-width="1"/>
<line x1="336.7" y1="334.0" x2="336.7" y2="336.0" stroke="#6a6a6a" stroke-width="1"/>
<line x1="377.2" y1="334.0" x2="377.2" y2="336.0" stroke="#6a6a6a" stroke-width="1"/>
<text x="235.3" y="348.8" text-anchor="middle" class="t">320</text>
<text x="276.5" y="348.8" text-anchor="middle" class="t">315</text>
<text x="316.4" y="348.8" text-anchor="middle" class="t">310</text>
<text x="357.2" y="348.8" text-anchor="middle" class="t">305</text>
<polyline points="218.6,306.1 219.0,307.7 219.5,308.5 219.9,310.3 220.4,303.9 220.8,311.0 221.3,303.9 221.7,307.2 222.2,309.7 222.6,308.4 223.1,303.7 223.5,304.3 224.0,304.9 224.4,306.0 224.9,309.3 225.3,302.4 225.8,307.3 226.2,307.6 226.7,307.4 227.1,307.1 227.6,310.0 228.0,307.0 228.5,308.0 228.9,307.1 229.4,310.5 229.8,300.1 230.3,309.0 230.7,304.6 231.2,304.5 231.6,302.5 232.1,299.9 232.5,304.0 233.0,303.0 233.4,306.3 233.9,300.7 234.3,308.8 234.8,305.5 235.2,303.9 235.7,302.6 236.1,302.3 236.6,301.2 237.0,302.8 237.5,304.3 237.9,303.7 238.4,300.1 238.8,303.3 239.3,298.9 239.7,304.8 240.2,309.0 240.6,305.5 241.1,302.7 241.5,299.0 242.0,299.5 242.4,298.6 242.9,305.3 243.3,301.0 243.8,303.5 244.2,301.3 244.7,303.2 245.1,306.8 245.6,300.8 246.0,301.7 246.5,298.0 246.9,304.9 247.4,299.5 247.8,299.1 248.3,298.3 248.7,298.1 249.2,303.3 249.6,309.0 250.1,299.0 250.5,304.3 251.0,302.2 251.4,298.3 251.9,300.5 252.3,299.9 252.8,297.2 253.2,306.4 253.7,295.5 254.1,301.8 254.6,301.6 255.0,298.9 255.5,300.8 255.9,305.1 256.4,300.5 256.8,301.0 257.3,301.7 257.7,293.8 258.2,303.5 258.6,305.6 259.1,304.5 259.5,301.6 260.0,294.7 260.4,298.1 260.9,296.0 261.3,296.4 261.8,300.6 262.2,293.2 262.7,297.2 263.1,292.1 263.6,296.4 264.0,297.3 264.5,295.0 264.9,294.8 265.4,302.0 265.8,293.2 266.3,293.5 266.7,294.0 267.2,299.5 267.6,303.3 268.1,297.7 268.5,293.7 269.0,294.4 269.4,298.4 269.9,292.6 270.3,299.0 270.8,298.7 271.2,294.7 271.7,296.1 272.1,296.1 272.6,301.0 273.0,290.5 273.5,296.4 273.9,291.7 274.4,290.3 274.8,292.3 275.3,291.1 275.7,288.5 276.2,286.4 276.6,287.8 277.1,294.1 277.5,295.2 278.0,291.1 278.4,292.2 278.9,287.1 279.3,288.0 279.8,288.6 280.2,284.5 280.7,281.7 281.1,287.2 281.6,285.7 282.0,283.3 282.5,287.1 282.9,285.0 283.4,291.1 283.8,285.1 284.3,284.0 284.7,284.8 285.2,283.7 285.6,282.0 286.1,282.4 286.5,285.3 287.0,284.7 287.4,289.8 287.9,277.4 288.3,280.7 288.8,280.2 289.2,281.4 289.7,279.1 290.1,278.3 290.6,281.3 291.0,278.9 291.5,274.4 291.9,280.5 292.4,278.7 292.8,273.2 293.3,276.0 293.7,270.4 294.2,274.3 294.6,269.1 295.1,265.9 295.5,265.5 296.0,262.8 296.4,263.8 296.9,262.0 297.3,260.0 297.8,256.6 298.2,249.2 298.7,255.4 299.1,248.1 299.6,252.9 300.0,254.3 300.5,251.2 300.9,248.9 301.4,249.4 301.8,249.8 302.3,249.3 302.7,250.2 303.2,250.7 303.6,258.3 304.1,256.8 304.5,261.7 305.0,260.5 305.4,263.7 305.9,265.3 306.3,270.6 306.8,274.8 307.2,273.6 307.7,272.4 308.1,271.7 308.6,282.5 309.0,278.6 309.5,279.9 309.9,285.9 310.4,285.8 310.8,286.5 311.3,283.0 311.7,291.2 312.2,286.1 312.6,286.9 313.1,285.2 313.5,282.0 314.0,282.6 314.4,288.1 314.9,288.8 315.3,287.8 315.8,286.1 316.2,286.2 316.7,290.1 317.1,287.6 317.6,294.7 318.0,295.7 318.5,299.8 318.9,294.8 319.4,290.2 319.8,288.9 320.3,283.4 320.7,288.2 321.2,288.6 321.6,291.0 322.1,289.2 322.5,288.3 323.0,286.6 323.4,287.2 323.9,288.6 324.3,280.7 324.8,281.6 325.2,274.7 325.7,288.3 326.1,283.7 326.6,281.3 327.0,274.9 327.5,278.3 327.9,275.1 328.4,275.8 328.8,274.3 329.3,275.6 329.7,272.3 330.2,274.9 330.6,272.2 331.1,269.5 331.5,268.3 332.0,266.0 332.4,267.4 332.9,261.9 333.3,261.4 333.8,255.7 334.2,249.4 334.7,252.7 335.1,243.8 335.6,245.2 336.0,241.0 336.5,231.8 336.9,230.5 337.4,228.8 337.8,225.4 338.3,222.2 338.7,226.0 339.2,222.4 339.6,223.9 340.1,222.0 340.5,224.9 341.0,223.1 341.4,226.6 341.9,230.2 342.3,231.0 342.8,232.2 343.2,233.3 343.7,240.4 344.1,243.8 344.6,245.8 345.0,248.3 345.5,256.2 345.9,266.1 346.4,262.9 346.8,269.3 347.3,274.0 347.7,270.3 348.2,282.3 348.6,284.2 349.1,294.4 349.5,294.7 350.0,298.3 350.4,304.5 350.9,309.5 351.3,310.2 351.8,313.4 352.2,311.3 352.7,315.9 353.1,320.0 353.6,324.4 354.0,321.9 354.5,321.6 354.9,328.3 355.4,325.3 355.8,327.7 356.3,329.7 356.7,323.8 357.2,325.3 357.6,325.5 358.1,326.2 358.5,326.3 359.0,323.8 359.4,320.4 359.9,322.8 360.3,321.1 360.8,327.2 361.2,327.2 361.7,322.7 362.1,329.5 362.6,330.2 363.0,328.2 363.5,332.7 363.9,333.5 364.4,321.6 364.8,331.4 365.3,329.8 365.7,329.9 366.2,334.0 366.6,326.9 367.1,327.3 367.5,326.8 368.0,327.0 368.4,328.7 368.9,325.2 369.3,326.4 369.8,331.0 370.2,329.3 370.7,330.6 371.1,324.3 371.6,325.2 372.0,328.1 372.5,329.8 372.9,328.1 373.4,332.4 373.8,329.6 374.3,329.9 374.7,329.9 375.2,331.8 375.6,328.6 376.1,333.1 376.5,331.2 377.0,330.4 377.4,330.1 377.9,332.9 378.3,332.8 378.8,332.7 379.2,331.1 379.7,332.5 380.1,330.4 380.6,333.6" fill="none" stroke="#111" stroke-width="1.35" />
<polyline points="254.1,300.8 254.6,300.6 255.0,300.5 255.5,300.4 255.9,300.2 256.4,300.0 256.8,299.9 257.3,299.7 257.7,299.5 258.2,299.4 258.6,299.2 259.1,299.0 259.5,298.8 260.0,298.6 260.4,298.4 260.9,298.3 261.3,298.1 261.8,297.9 262.2,297.7 262.7,297.6 263.1,297.4 263.6,297.2 264.0,297.1 264.5,296.9 264.9,296.8 265.4,296.7 265.8,296.5 266.3,296.4 266.7,296.3 267.2,296.2 267.6,296.0 268.1,295.9 268.5,295.7 269.0,295.6 269.4,295.4 269.9,295.2 270.3,295.0 270.8,294.8 271.2,294.5 271.7,294.3 272.1,294.0 272.6,293.7 273.0,293.4 273.5,293.1 273.9,292.8 274.4,292.4 274.8,292.1 275.3,291.7 275.7,291.3 276.2,290.9 276.6,290.5 277.1,290.1 277.5,289.7 278.0,289.3 278.4,288.9 278.9,288.5 279.3,288.2 279.8,287.9 280.2,287.5 280.7,287.2 281.1,286.9 281.6,286.6 282.0,286.3 282.5,286.0 282.9,285.7 283.4,285.4 283.8,285.1 284.3,284.8 284.7,284.5 285.2,284.2 285.6,283.9 286.1,283.6 286.5,283.2 287.0,282.9 287.4,282.6 287.9,282.2 288.3,281.8 288.8,281.4 289.2,280.9 289.7,280.4 290.1,279.8 290.6,279.1 291.0,278.4 291.5,277.7 291.9,276.8 292.4,275.9 292.8,274.8 293.3,273.7 293.7,272.5 294.2,271.1 294.6,269.7 295.1,268.2 295.5,266.6 296.0,264.9 296.4,263.3 296.9,261.5 297.3,259.8 297.8,258.1 298.2,256.5 298.7,254.9 299.1,253.4 299.6,252.2 300.0,251.1 300.5,250.4 300.9,250.0 301.4,249.9 301.8,250.2 302.3,250.8 302.7,251.9 303.2,253.3 303.6,255.0 304.1,256.9 304.5,259.0 305.0,261.2 305.4,263.5 305.9,265.7 306.3,268.0 306.8,270.2 307.2,272.3 307.7,274.2 308.1,276.1 308.6,277.8 309.0,279.4 309.5,280.7 309.9,281.8 310.4,282.7 310.8,283.5 311.3,284.1 311.7,284.6 312.2,285.0 312.6,285.4 313.1,285.7 313.5,286.0 314.0,286.4 314.4,286.9 314.9,287.7 315.3,288.5 315.8,289.3 316.2,290.2 316.7,291.0 317.1,291.7 317.6,292.2 318.0,292.5 318.5,292.5 318.9,292.3 319.4,291.9 319.8,291.3 320.3,290.7 320.7,289.9 321.2,289.1 321.6,288.3 322.1,287.5 322.5,286.7 323.0,286.0 323.4,285.3 323.9,284.5 324.3,283.7 324.8,282.8 325.2,281.9 325.7,281.0 326.1,280.1 326.6,279.2 327.0,278.2 327.5,277.3 327.9,276.4 328.4,275.6 328.8,274.8 329.3,274.1 329.7,273.4 330.2,272.5 330.6,271.6 331.1,270.4 331.5,268.9 332.0,267.2 332.4,265.1 332.9,262.6 333.3,259.8 333.8,256.8 334.2,253.6 334.7,250.2 335.1,246.8 335.6,243.3 336.0,239.8 336.5,236.4 336.9,233.2 337.4,230.2 337.8,227.7 338.3,225.5 338.7,224.0 339.2,223.0 339.6,222.8 340.1,223.2 340.5,224.0 341.0,225.2 341.4,226.7 341.9,228.6 342.3,230.9 342.8,233.4 343.2,236.3 343.7,239.5 344.1,242.9 344.6,246.5 345.0,250.4 345.5,254.7 345.9,259.1 346.4,263.7 346.8,268.4 347.3,273.0 347.7,277.5 348.2,281.9 348.6,286.2 349.1,290.5 349.5,295.5 350.0,300.5 350.4,305.2 350.9,309.1 351.3,311.8 351.8,313.5 352.2,315.1 352.7,316.5 353.1,317.8 353.6,318.9 354.0,319.9 354.5,320.9 354.9,321.7 355.4,322.4 355.8,323.0 356.3,323.6 356.7,324.1 357.2,324.6 357.6,325.0 358.1,325.4 358.5,325.7 359.0,326.0 359.4,326.3 359.9,326.5 360.3,326.7 360.8,327.0 361.2,327.2 361.7,327.4 362.1,327.6 362.6,327.7 363.0,327.9 363.5,328.1 363.9,328.2 364.4,328.3 364.8,328.5 365.3,328.6 365.7,328.7 366.2,328.8 366.6,328.9 367.1,329.0 367.5,329.1 368.0,329.2 368.4,329.2 368.9,329.3 369.3,329.4 369.8,329.4 370.2,329.5 370.7,329.5 371.1,329.6 371.6,329.6 372.0,329.7 372.5,329.7 372.9,329.7 373.4,329.8 373.8,329.8 374.3,329.8 374.7,329.8 375.2,329.9 375.6,329.9 376.1,329.9 376.5,329.9 377.0,329.9 377.4,330.0 377.9,330.0 378.3,330.0 378.8,330.0 379.2,330.0 379.7,330.0 380.1,330.0 380.6,330.1" fill="none" stroke="#808080" stroke-width="1.1" />
<polyline points="254.1,303.7 254.6,303.7 255.0,303.7 255.5,303.6 255.9,303.6 256.4,303.6 256.8,303.6 257.3,303.6 257.7,303.6 258.2,303.5 258.6,303.5 259.1,303.5 259.5,303.5 260.0,303.5 260.4,303.5 260.9,303.4 261.3,303.4 261.8,303.4 262.2,303.4 262.7,303.4 263.1,303.3 263.6,303.3 264.0,303.3 264.5,303.3 264.9,303.3 265.4,303.2 265.8,303.2 266.3,303.2 266.7,303.1 267.2,303.1 267.6,303.1 268.1,303.1 268.5,303.0 269.0,303.0 269.4,303.0 269.9,302.9 270.3,302.9 270.8,302.8 271.2,302.8 271.7,302.7 272.1,302.7 272.6,302.6 273.0,302.6 273.5,302.5 273.9,302.5 274.4,302.4 274.8,302.4 275.3,302.3 275.7,302.2 276.2,302.1 276.6,302.0 277.1,302.0 277.5,301.9 278.0,301.8 278.4,301.7 278.9,301.6 279.3,301.4 279.8,301.3 280.2,301.2 280.7,301.0 281.1,300.9 281.6,300.7 282.0,300.5 282.5,300.3 282.9,300.1 283.4,299.9 283.8,299.7 284.3,299.4 284.7,299.1 285.2,298.8 285.6,298.5 286.1,298.1 286.5,297.7 287.0,297.3 287.4,296.8 287.9,296.3 288.3,295.7 288.8,295.1 289.2,294.4 289.7,293.7 290.1,292.9 290.6,292.0 291.0,291.1 291.5,290.0 291.9,288.9 292.4,287.7 292.8,286.4 293.3,284.9 293.7,283.4 294.2,281.8 294.6,280.0 295.1,278.2 295.5,276.3 296.0,274.3 296.4,272.2 296.9,270.1 297.3,267.9 297.8,265.8 298.2,263.7 298.7,261.7 299.1,259.9 299.6,258.3 300.0,256.9 300.5,255.8 300.9,255.2 301.4,254.9 301.8,255.0 302.3,255.6 302.7,256.6 303.2,257.9 303.6,259.5 304.1,261.4 304.5,263.6 305.0,265.8 305.4,268.2 305.9,270.6 306.3,273.0 306.8,275.4 307.2,277.7 307.7,279.9 308.1,282.1 308.6,284.2 309.0,286.2 309.5,288.1 309.9,289.9 310.4,291.6 310.8,293.1 311.3,294.6 311.7,296.0 312.2,297.3 312.6,298.5 313.1,299.7 313.5,300.7 314.0,301.7 314.4,302.6 314.9,303.5 315.3,304.3 315.8,305.0 316.2,305.7 316.7,306.4 317.1,307.0 317.6,307.6 318.0,308.2 318.5,308.7 318.9,309.2 319.4,309.7 319.8,310.1 320.3,310.6 320.7,311.0 321.2,311.4 321.6,311.8 322.1,312.1 322.5,312.5 323.0,312.8 323.4,313.1 323.9,313.5 324.3,313.8 324.8,314.1 325.2,314.4 325.7,314.7 326.1,315.0 326.6,315.2 327.0,315.5 327.5,315.8 327.9,316.1 328.4,316.3 328.8,316.6 329.3,316.8 329.7,317.1 330.2,317.3 330.6,317.6 331.1,317.8 331.5,318.1 332.0,318.3 332.4,318.5 332.9,318.8 333.3,319.0 333.8,319.2 334.2,319.5 334.7,319.7 335.1,319.9 335.6,320.1 336.0,320.3 336.5,320.6 336.9,320.8 337.4,321.0 337.8,321.2 338.3,321.4 338.7,321.6 339.2,321.8 339.6,322.1 340.1,322.3 340.5,322.5 341.0,322.8 341.4,323.0 341.9,323.2 342.3,323.5 342.8,323.7 343.2,323.9 343.7,324.2 344.1,324.4 344.6,324.6 345.0,324.8 345.5,325.0 345.9,325.2 346.4,325.4 346.8,325.5 347.3,325.7 347.7,325.8 348.2,325.9 348.6,326.0 349.1,326.1 349.5,326.2 350.0,326.2 350.4,326.3 350.9,326.4 351.3,326.4 351.8,326.5 352.2,326.5 352.7,326.6 353.1,326.6 353.6,326.7 354.0,326.7 354.5,326.7 354.9,326.8 355.4,326.8 355.8,326.9 356.3,326.9 356.7,326.9 357.2,327.0 357.6,327.0 358.1,327.0 358.5,327.1 359.0,327.1 359.4,327.1 359.9,327.2 360.3,327.2 360.8,327.3 361.2,327.3 361.7,327.3 362.1,327.4 362.6,327.4 363.0,327.4 363.5,327.5 363.9,327.5 364.4,327.5 364.8,327.6 365.3,327.6 365.7,327.7 366.2,327.7 366.6,327.7 367.1,327.8 367.5,327.8 368.0,327.8 368.4,327.9 368.9,327.9 369.3,327.9 369.8,328.0 370.2,328.0 370.7,328.0 371.1,328.1 371.6,328.1 372.0,328.1 372.5,328.1 372.9,328.2 373.4,328.2 373.8,328.2 374.3,328.3 374.7,328.3 375.2,328.3 375.6,328.3 376.1,328.4 376.5,328.4 377.0,328.4 377.4,328.5 377.9,328.5 378.3,328.5 378.8,328.5 379.2,328.6 379.7,328.6 380.1,328.6 380.6,328.6" fill="none" stroke="#d8282c" stroke-width="1.7" />
<polyline points="254.1,304.1 254.6,304.1 255.0,304.1 255.5,304.1 255.9,304.1 256.4,304.1 256.8,304.1 257.3,304.1 257.7,304.1 258.2,304.1 258.6,304.1 259.1,304.1 259.5,304.1 260.0,304.1 260.4,304.1 260.9,304.1 261.3,304.1 261.8,304.1 262.2,304.1 262.7,304.1 263.1,304.1 263.6,304.1 264.0,304.2 264.5,304.2 264.9,304.2 265.4,304.2 265.8,304.2 266.3,304.2 266.7,304.2 267.2,304.2 267.6,304.2 268.1,304.2 268.5,304.2 269.0,304.2 269.4,304.2 269.9,304.2 270.3,304.2 270.8,304.2 271.2,304.2 271.7,304.3 272.1,304.3 272.6,304.3 273.0,304.3 273.5,304.3 273.9,304.3 274.4,304.3 274.8,304.3 275.3,304.3 275.7,304.3 276.2,304.3 276.6,304.3 277.1,304.4 277.5,304.4 278.0,304.4 278.4,304.4 278.9,304.4 279.3,304.4 279.8,304.4 280.2,304.4 280.7,304.4 281.1,304.4 281.6,304.5 282.0,304.5 282.5,304.5 282.9,304.5 283.4,304.5 283.8,304.5 284.3,304.5 284.7,304.5 285.2,304.5 285.6,304.6 286.1,304.6 286.5,304.6 287.0,304.7 287.4,304.7 287.9,304.7 288.3,304.8 288.8,304.8 289.2,304.9 289.7,304.9 290.1,305.0 290.6,305.0 291.0,305.1 291.5,305.1 291.9,305.2 292.4,305.3 292.8,305.3 293.3,305.4 293.7,305.5 294.2,305.5 294.6,305.6 295.1,305.7 295.5,305.7 296.0,305.8 296.4,305.9 296.9,305.9 297.3,306.0 297.8,306.1 298.2,306.1 298.7,306.2 299.1,306.3 299.6,306.3 300.0,306.4 300.5,306.4 300.9,306.5 301.4,306.6 301.8,306.7 302.3,306.7 302.7,306.8 303.2,306.9 303.6,307.0 304.1,307.0 304.5,307.1 305.0,307.2 305.4,307.3 305.9,307.4 306.3,307.4 306.8,307.5 307.2,307.6 307.7,307.7 308.1,307.8 308.6,307.8 309.0,307.9 309.5,308.0 309.9,308.0 310.4,308.1 310.8,308.2 311.3,308.2 311.7,308.3 312.2,308.4 312.6,308.4 313.1,308.4 313.5,308.5 314.0,308.5 314.4,308.5 314.9,308.6 315.3,308.6 315.8,308.6 316.2,308.5 316.7,308.5 317.1,308.5 317.6,308.4 318.0,308.4 318.5,308.3 318.9,308.2 319.4,308.1 319.8,307.9 320.3,307.7 320.7,307.5 321.2,307.3 321.6,307.0 322.1,306.7 322.5,306.4 323.0,306.0 323.4,305.5 323.9,305.0 324.3,304.4 324.8,303.8 325.2,303.1 325.7,302.2 326.1,301.3 326.6,300.3 327.0,299.1 327.5,297.9 327.9,296.5 328.4,294.9 328.8,293.2 329.3,291.3 329.7,289.2 330.2,287.0 330.6,284.6 331.1,282.0 331.5,279.1 332.0,276.1 332.4,272.9 332.9,269.5 333.3,265.9 333.8,262.2 334.2,258.3 334.7,254.4 335.1,250.3 335.6,246.3 336.0,242.3 336.5,238.4 336.9,234.7 337.4,231.4 337.8,228.4 338.3,226.0 338.7,224.1 339.2,222.9 339.6,222.5 340.1,222.8 340.5,223.9 341.0,225.7 341.4,228.1 341.9,231.2 342.3,234.6 342.8,238.5 343.2,242.6 343.7,246.9 344.1,251.3 344.6,255.7 345.0,260.1 345.5,264.4 345.9,268.6 346.4,272.6 346.8,276.4 347.3,280.1 347.7,283.5 348.2,286.7 348.6,289.7 349.1,292.5 349.5,295.1 350.0,297.5 350.4,299.7 350.9,301.8 351.3,303.7 351.8,305.4 352.2,307.0 352.7,308.4 353.1,309.7 353.6,310.9 354.0,312.0 354.5,313.0 354.9,313.9 355.4,314.7 355.8,315.5 356.3,316.2 356.7,316.8 357.2,317.4 357.6,317.9 358.1,318.4 358.5,318.9 359.0,319.3 359.4,319.7 359.9,320.0 360.3,320.4 360.8,320.7 361.2,321.0 361.7,321.3 362.1,321.6 362.6,321.9 363.0,322.1 363.5,322.3 363.9,322.6 364.4,322.8 364.8,323.0 365.3,323.2 365.7,323.4 366.2,323.5 366.6,323.7 367.1,323.9 367.5,324.0 368.0,324.2 368.4,324.3 368.9,324.5 369.3,324.6 369.8,324.8 370.2,324.9 370.7,325.0 371.1,325.1 371.6,325.2 372.0,325.4 372.5,325.5 372.9,325.6 373.4,325.7 373.8,325.8 374.3,325.9 374.7,326.0 375.2,326.0 375.6,326.1 376.1,326.2 376.5,326.3 377.0,326.4 377.4,326.5 377.9,326.5 378.3,326.6 378.8,326.7 379.2,326.8 379.7,326.8 380.1,326.9 380.6,327.0" fill="none" stroke="#d8282c" stroke-width="1.7" />
<polyline points="254.1,304.6 254.6,304.6 255.0,304.6 255.5,304.6 255.9,304.6 256.4,304.6 256.8,304.6 257.3,304.6 257.7,304.6 258.2,304.6 258.6,304.6 259.1,304.7 259.5,304.7 260.0,304.7 260.4,304.7 260.9,304.7 261.3,304.7 261.8,304.7 262.2,304.7 262.7,304.7 263.1,304.7 263.6,304.7 264.0,304.7 264.5,304.8 264.9,304.8 265.4,304.8 265.8,304.8 266.3,304.8 266.7,304.8 267.2,304.8 267.6,304.8 268.1,304.9 268.5,304.9 269.0,304.9 269.4,304.9 269.9,304.9 270.3,304.9 270.8,305.0 271.2,305.0 271.7,305.0 272.1,305.0 272.6,305.0 273.0,305.0 273.5,305.1 273.9,305.1 274.4,305.1 274.8,305.1 275.3,305.1 275.7,305.2 276.2,305.2 276.6,305.2 277.1,305.2 277.5,305.2 278.0,305.3 278.4,305.3 278.9,305.3 279.3,305.3 279.8,305.4 280.2,305.4 280.7,305.4 281.1,305.4 281.6,305.5 282.0,305.5 282.5,305.5 282.9,305.5 283.4,305.6 283.8,305.6 284.3,305.6 284.7,305.7 285.2,305.7 285.6,305.7 286.1,305.8 286.5,305.8 287.0,305.9 287.4,305.9 287.9,306.0 288.3,306.1 288.8,306.1 289.2,306.2 289.7,306.3 290.1,306.4 290.6,306.4 291.0,306.5 291.5,306.6 291.9,306.7 292.4,306.8 292.8,306.9 293.3,307.0 293.7,307.1 294.2,307.2 294.6,307.3 295.1,307.4 295.5,307.5 296.0,307.6 296.4,307.7 296.9,307.8 297.3,307.9 297.8,308.0 298.2,308.1 298.7,308.2 299.1,308.3 299.6,308.4 300.0,308.5 300.5,308.6 300.9,308.7 301.4,308.9 301.8,309.0 302.3,309.1 302.7,309.2 303.2,309.4 303.6,309.5 304.1,309.6 304.5,309.8 305.0,309.9 305.4,310.1 305.9,310.2 306.3,310.4 306.8,310.6 307.2,310.7 307.7,310.9 308.1,311.0 308.6,311.2 309.0,311.4 309.5,311.6 309.9,311.7 310.4,311.9 310.8,312.1 311.3,312.3 311.7,312.4 312.2,312.6 312.6,312.8 313.1,313.0 313.5,313.2 314.0,313.4 314.4,313.5 314.9,313.7 315.3,313.9 315.8,314.1 316.2,314.3 316.7,314.5 317.1,314.7 317.6,314.8 318.0,315.0 318.5,315.2 318.9,315.4 319.4,315.6 319.8,315.8 320.3,315.9 320.7,316.1 321.2,316.3 321.6,316.5 322.1,316.7 322.5,316.8 323.0,317.0 323.4,317.2 323.9,317.3 324.3,317.5 324.8,317.7 325.2,317.9 325.7,318.0 326.1,318.2 326.6,318.4 327.0,318.6 327.5,318.7 327.9,318.9 328.4,319.1 328.8,319.2 329.3,319.4 329.7,319.6 330.2,319.8 330.6,320.0 331.1,320.1 331.5,320.3 332.0,320.5 332.4,320.7 332.9,320.8 333.3,321.0 333.8,321.2 334.2,321.4 334.7,321.5 335.1,321.7 335.6,321.9 336.0,322.1 336.5,322.2 336.9,322.4 337.4,322.6 337.8,322.8 338.3,322.9 338.7,323.1 339.2,323.3 339.6,323.5 340.1,323.7 340.5,323.9 341.0,324.1 341.4,324.3 341.9,324.5 342.3,324.7 342.8,324.9 343.2,325.1 343.7,325.3 344.1,325.5 344.6,325.7 345.0,325.9 345.5,326.1 345.9,326.2 346.4,326.4 346.8,326.5 347.3,326.7 347.7,326.8 348.2,326.9 348.6,327.0 349.1,327.0 349.5,327.1 350.0,327.1 350.4,327.2 350.9,327.2 351.3,327.2 351.8,327.3 352.2,327.3 352.7,327.4 353.1,327.4 353.6,327.4 354.0,327.5 354.5,327.5 354.9,327.5 355.4,327.5 355.8,327.6 356.3,327.6 356.7,327.6 357.2,327.6 357.6,327.7 358.1,327.7 358.5,327.7 359.0,327.7 359.4,327.8 359.9,327.8 360.3,327.8 360.8,327.9 361.2,327.9 361.7,327.9 362.1,327.9 362.6,328.0 363.0,328.0 363.5,328.0 363.9,328.1 364.4,328.1 364.8,328.1 365.3,328.1 365.7,328.2 366.2,328.2 366.6,328.2 367.1,328.2 367.5,328.3 368.0,328.3 368.4,328.3 368.9,328.4 369.3,328.4 369.8,328.4 370.2,328.4 370.7,328.5 371.1,328.5 371.6,328.5 372.0,328.5 372.5,328.6 372.9,328.6 373.4,328.6 373.8,328.6 374.3,328.7 374.7,328.7 375.2,328.7 375.6,328.7 376.1,328.8 376.5,328.8 377.0,328.8 377.4,328.8 377.9,328.8 378.3,328.9 378.8,328.9 379.2,328.9 379.7,328.9 380.1,329.0 380.6,329.0" fill="none" stroke="#1e1ec8" stroke-width="1.7" />
<polyline points="254.1,304.6 254.6,304.6 255.0,304.6 255.5,304.6 255.9,304.6 256.4,304.6 256.8,304.6 257.3,304.6 257.7,304.6 258.2,304.6 258.6,304.6 259.1,304.6 259.5,304.6 260.0,304.6 260.4,304.6 260.9,304.6 261.3,304.6 261.8,304.6 262.2,304.5 262.7,304.5 263.1,304.5 263.6,304.5 264.0,304.4 264.5,304.4 264.9,304.3 265.4,304.3 265.8,304.2 266.3,304.1 266.7,304.0 267.2,303.9 267.6,303.8 268.1,303.7 268.5,303.6 269.0,303.4 269.4,303.2 269.9,303.1 270.3,302.9 270.8,302.6 271.2,302.4 271.7,302.2 272.1,301.9 272.6,301.6 273.0,301.3 273.5,301.0 273.9,300.7 274.4,300.3 274.8,300.0 275.3,299.6 275.7,299.3 276.2,298.9 276.6,298.5 277.1,298.2 277.5,297.8 278.0,297.4 278.4,297.1 278.9,296.7 279.3,296.4 279.8,296.1 280.2,295.8 280.7,295.6 281.1,295.3 281.6,295.1 282.0,295.0 282.5,294.8 282.9,294.7 283.4,294.6 283.8,294.6 284.3,294.6 284.7,294.7 285.2,294.8 285.6,294.9 286.1,295.1 286.5,295.3 287.0,295.5 287.4,295.8 287.9,296.2 288.3,296.5 288.8,296.9 289.2,297.3 289.7,297.7 290.1,298.1 290.6,298.6 291.0,299.1 291.5,299.5 291.9,300.0 292.4,300.5 292.8,301.0 293.3,301.5 293.7,301.9 294.2,302.4 294.6,302.9 295.1,303.3 295.5,303.7 296.0,304.1 296.4,304.5 296.9,304.9 297.3,305.3 297.8,305.7 298.2,306.0 298.7,306.3 299.1,306.6 299.6,306.9 300.0,307.2 300.5,307.5 300.9,307.7 301.4,308.0 301.8,308.2 302.3,308.4 302.7,308.6 303.2,308.9 303.6,309.1 304.1,309.3 304.5,309.5 305.0,309.7 305.4,309.8 305.9,310.0 306.3,310.2 306.8,310.4 307.2,310.6 307.7,310.8 308.1,311.0 308.6,311.1 309.0,311.3 309.5,311.5 309.9,311.7 310.4,311.9 310.8,312.1 311.3,312.2 311.7,312.4 312.2,312.6 312.6,312.8 313.1,313.0 313.5,313.2 314.0,313.4 314.4,313.5 314.9,313.7 315.3,313.9 315.8,314.1 316.2,314.3 316.7,314.5 317.1,314.7 317.6,314.8 318.0,315.0 318.5,315.2 318.9,315.4 319.4,315.6 319.8,315.8 320.3,315.9 320.7,316.1 321.2,316.3 321.6,316.5 322.1,316.7 322.5,316.8 323.0,317.0 323.4,317.2 323.9,317.3 324.3,317.5 324.8,317.7 325.2,317.9 325.7,318.0 326.1,318.2 326.6,318.4 327.0,318.6 327.5,318.7 327.9,318.9 328.4,319.1 328.8,319.2 329.3,319.4 329.7,319.6 330.2,319.8 330.6,320.0 331.1,320.1 331.5,320.3 332.0,320.5 332.4,320.7 332.9,320.8 333.3,321.0 333.8,321.2 334.2,321.4 334.7,321.5 335.1,321.7 335.6,321.9 336.0,322.1 336.5,322.2 336.9,322.4 337.4,322.6 337.8,322.8 338.3,322.9 338.7,323.1 339.2,323.3 339.6,323.5 340.1,323.7 340.5,323.9 341.0,324.1 341.4,324.3 341.9,324.5 342.3,324.7 342.8,324.9 343.2,325.1 343.7,325.3 344.1,325.5 344.6,325.7 345.0,325.9 345.5,326.1 345.9,326.2 346.4,326.4 346.8,326.5 347.3,326.7 347.7,326.8 348.2,326.9 348.6,327.0 349.1,327.0 349.5,327.1 350.0,327.1 350.4,327.2 350.9,327.2 351.3,327.2 351.8,327.3 352.2,327.3 352.7,327.4 353.1,327.4 353.6,327.4 354.0,327.5 354.5,327.5 354.9,327.5 355.4,327.5 355.8,327.6 356.3,327.6 356.7,327.6 357.2,327.6 357.6,327.7 358.1,327.7 358.5,327.7 359.0,327.7 359.4,327.8 359.9,327.8 360.3,327.8 360.8,327.9 361.2,327.9 361.7,327.9 362.1,327.9 362.6,328.0 363.0,328.0 363.5,328.0 363.9,328.1 364.4,328.1 364.8,328.1 365.3,328.1 365.7,328.2 366.2,328.2 366.6,328.2 367.1,328.2 367.5,328.3 368.0,328.3 368.4,328.3 368.9,328.4 369.3,328.4 369.8,328.4 370.2,328.4 370.7,328.5 371.1,328.5 371.6,328.5 372.0,328.5 372.5,328.6 372.9,328.6 373.4,328.6 373.8,328.6 374.3,328.7 374.7,328.7 375.2,328.7 375.6,328.7 376.1,328.8 376.5,328.8 377.0,328.8 377.4,328.8 377.9,328.8 378.3,328.9 378.8,328.9 379.2,328.9 379.7,328.9 380.1,329.0 380.6,329.0" fill="none" stroke="#1e1ec8" stroke-width="1.7" />
<polyline points="254.1,304.6 254.6,304.6 255.0,304.6 255.5,304.6 255.9,304.6 256.4,304.6 256.8,304.6 257.3,304.6 257.7,304.6 258.2,304.6 258.6,304.6 259.1,304.7 259.5,304.7 260.0,304.7 260.4,304.7 260.9,304.7 261.3,304.7 261.8,304.7 262.2,304.7 262.7,304.7 263.1,304.7 263.6,304.7 264.0,304.7 264.5,304.8 264.9,304.8 265.4,304.8 265.8,304.8 266.3,304.8 266.7,304.8 267.2,304.8 267.6,304.8 268.1,304.9 268.5,304.9 269.0,304.9 269.4,304.9 269.9,304.9 270.3,304.9 270.8,305.0 271.2,305.0 271.7,305.0 272.1,305.0 272.6,305.0 273.0,305.0 273.5,305.1 273.9,305.1 274.4,305.1 274.8,305.1 275.3,305.1 275.7,305.2 276.2,305.2 276.6,305.2 277.1,305.2 277.5,305.2 278.0,305.3 278.4,305.3 278.9,305.3 279.3,305.3 279.8,305.4 280.2,305.4 280.7,305.4 281.1,305.4 281.6,305.5 282.0,305.5 282.5,305.5 282.9,305.5 283.4,305.6 283.8,305.6 284.3,305.6 284.7,305.7 285.2,305.7 285.6,305.7 286.1,305.8 286.5,305.8 287.0,305.9 287.4,305.9 287.9,306.0 288.3,306.1 288.8,306.1 289.2,306.2 289.7,306.3 290.1,306.3 290.6,306.4 291.0,306.5 291.5,306.6 291.9,306.7 292.4,306.8 292.8,306.9 293.3,306.9 293.7,307.0 294.2,307.1 294.6,307.2 295.1,307.3 295.5,307.4 296.0,307.5 296.4,307.6 296.9,307.7 297.3,307.8 297.8,307.9 298.2,308.0 298.7,308.1 299.1,308.1 299.6,308.2 300.0,308.3 300.5,308.4 300.9,308.4 301.4,308.5 301.8,308.5 302.3,308.6 302.7,308.6 303.2,308.7 303.6,308.7 304.1,308.7 304.5,308.7 305.0,308.7 305.4,308.7 305.9,308.7 306.3,308.6 306.8,308.5 307.2,308.4 307.7,308.3 308.1,308.2 308.6,308.0 309.0,307.9 309.5,307.7 309.9,307.5 310.4,307.2 310.8,306.9 311.3,306.7 311.7,306.4 312.2,306.0 312.6,305.7 313.1,305.3 313.5,305.0 314.0,304.6 314.4,304.2 314.9,303.8 315.3,303.5 315.8,303.1 316.2,302.7 316.7,302.4 317.1,302.1 317.6,301.8 318.0,301.5 318.5,301.3 318.9,301.0 319.4,300.9 319.8,300.8 320.3,300.7 320.7,300.6 321.2,300.7 321.6,300.7 322.1,300.9 322.5,301.0 323.0,301.3 323.4,301.5 323.9,301.9 324.3,302.3 324.8,302.7 325.2,303.2 325.7,303.7 326.1,304.3 326.6,304.9 327.0,305.5 327.5,306.2 327.9,306.9 328.4,307.6 328.8,308.3 329.3,309.0 329.7,309.8 330.2,310.5 330.6,311.3 331.1,312.0 331.5,312.7 332.0,313.4 332.4,314.1 332.9,314.8 333.3,315.4 333.8,316.1 334.2,316.7 334.7,317.3 335.1,317.9 335.6,318.4 336.0,318.9 336.5,319.4 336.9,319.9 337.4,320.3 337.8,320.8 338.3,321.2 338.7,321.5 339.2,321.9 339.6,322.3 340.1,322.6 340.5,323.0 341.0,323.3 341.4,323.6 341.9,323.9 342.3,324.2 342.8,324.5 343.2,324.7 343.7,325.0 344.1,325.3 344.6,325.5 345.0,325.7 345.5,325.9 345.9,326.1 346.4,326.3 346.8,326.4 347.3,326.6 347.7,326.7 348.2,326.8 348.6,326.9 349.1,327.0 349.5,327.0 350.0,327.1 350.4,327.1 350.9,327.2 351.3,327.2 351.8,327.3 352.2,327.3 352.7,327.4 353.1,327.4 353.6,327.4 354.0,327.4 354.5,327.5 354.9,327.5 355.4,327.5 355.8,327.6 356.3,327.6 356.7,327.6 357.2,327.6 357.6,327.7 358.1,327.7 358.5,327.7 359.0,327.7 359.4,327.8 359.9,327.8 360.3,327.8 360.8,327.9 361.2,327.9 361.7,327.9 362.1,327.9 362.6,328.0 363.0,328.0 363.5,328.0 363.9,328.1 364.4,328.1 364.8,328.1 365.3,328.1 365.7,328.2 366.2,328.2 366.6,328.2 367.1,328.2 367.5,328.3 368.0,328.3 368.4,328.3 368.9,328.4 369.3,328.4 369.8,328.4 370.2,328.4 370.7,328.5 371.1,328.5 371.6,328.5 372.0,328.5 372.5,328.6 372.9,328.6 373.4,328.6 373.8,328.6 374.3,328.7 374.7,328.7 375.2,328.7 375.6,328.7 376.1,328.8 376.5,328.8 377.0,328.8 377.4,328.8 377.9,328.8 378.3,328.9 378.8,328.9 379.2,328.9 379.7,328.9 380.1,329.0 380.6,329.0" fill="none" stroke="#1e1ec8" stroke-width="1.7" />
<line x1="284.5" y1="275.6" x2="284.5" y2="336" stroke="#1e1ec8" stroke-width="1.4" stroke-dasharray="3,3"/>
<line x1="322.9" y1="250.4" x2="322.9" y2="336" stroke="#1e1ec8" stroke-width="1.4" stroke-dasharray="3,3"/>
<line x1="301.8" y1="240.5" x2="301.8" y2="336" stroke="#d8282c" stroke-width="1.4" stroke-dasharray="3,3"/>
<line x1="339.7" y1="215" x2="339.7" y2="336" stroke="#d8282c" stroke-width="1.4" stroke-dasharray="3,3"/>
<text x="215.5" y="192.3" text-anchor="start" class="l">(d)</text>
<text x="276.5" y="194.9" class="t">3d<tspan class="s" dy="3.1">3/2</tspan></text>
<text x="323.3" y="194.1" class="t">3d<tspan class="s" dy="3.1">5/2</tspan></text>
<path d="M270.9,207.7 V201 H308.7 V207.7 M319.5,207.7 V200.5 H355.9 V207.7" fill="none" stroke="#222" stroke-width="1.1"/>
<text x="269.4" y="237.5" text-anchor="start" class="t" style="fill:#d8282c;stroke:#d8282c">Rh (0)</text>
<text x="345.1" y="218.1" text-anchor="start" class="t" style="fill:#d8282c;stroke:#d8282c">Rh (0)</text>
<text x="254.5" y="261.5" class="t" style="fill:#1e1ec8;stroke:#1e1ec8">Rh<tspan class="s" dy="2.5">2</tspan><tspan dy="-2.5">O</tspan><tspan class="s" dy="2.5">3</tspan></text>
<text x="258.6" y="274.5" text-anchor="start" class="t" style="fill:#1e1ec8;stroke:#1e1ec8">(+III)</text>
<text x="304.9" y="234.5" class="t" style="fill:#1e1ec8;stroke:#1e1ec8">Rh<tspan class="s" dy="2.5">2</tspan><tspan dy="-2.5">O</tspan><tspan class="s" dy="2.5">3</tspan></text>
<text x="309.2" y="247.5" text-anchor="start" class="t" style="fill:#1e1ec8;stroke:#1e1ec8">(+III)</text>
<text x="298" y="363.6" text-anchor="middle" class="t">Binding energy / eV</text>
</svg>
</body></html>
